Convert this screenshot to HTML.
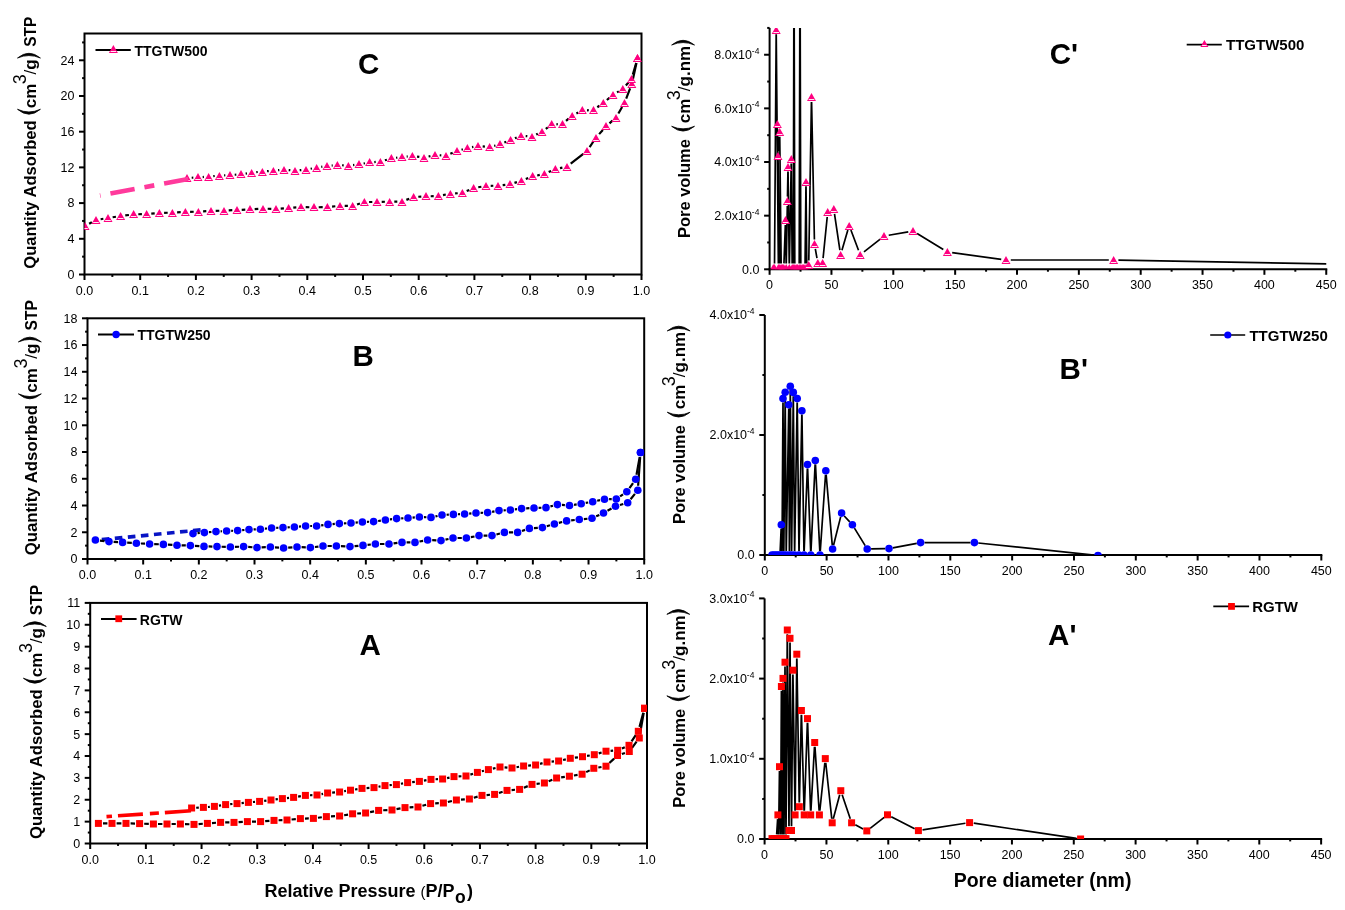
<!DOCTYPE html>
<html><head><meta charset="utf-8"><title>Isotherms and pore size distributions</title>
<style>html,body{margin:0;padding:0;background:#fff;}body{width:1345px;height:910px;overflow:hidden;font-family:"Liberation Sans",sans-serif;}svg{display:block;will-change:transform;}</style>
</head><body>
<svg width="1345" height="910" viewBox="0 0 1345 910" font-family='"Liberation Sans", sans-serif' fill="#000"><defs><clipPath id="cC"><rect x="84.5" y="33.5" width="557" height="241"/></clipPath><clipPath id="cB"><rect x="87.5" y="318.3" width="556.7" height="240.7"/></clipPath><clipPath id="cA"><rect x="90.2" y="602.9" width="556.8" height="240.6"/></clipPath><clipPath id="cCp"><rect x="769.6" y="27.92" width="556.65" height="241.38"/></clipPath><clipPath id="cBp"><rect x="764.8" y="315" width="556.52" height="240"/></clipPath><clipPath id="cAp"><rect x="764.6" y="598.4" width="556.51" height="240.6"/></clipPath></defs><rect x="84.5" y="33.5" width="557" height="241" fill="none" stroke="#000" stroke-width="2"/>
<line x1="79" y1="274.5" x2="84.5" y2="274.5" stroke="#000" stroke-width="2" stroke-linecap="butt"/>
<text x="74.5" y="278.9" font-size="12.5" text-anchor="end" >0</text>
<line x1="82.1" y1="256.65" x2="84.5" y2="256.65" stroke="#000" stroke-width="2" stroke-linecap="butt"/>
<line x1="79" y1="238.8" x2="84.5" y2="238.8" stroke="#000" stroke-width="2" stroke-linecap="butt"/>
<text x="74.5" y="243.2" font-size="12.5" text-anchor="end" >4</text>
<line x1="82.1" y1="220.94" x2="84.5" y2="220.94" stroke="#000" stroke-width="2" stroke-linecap="butt"/>
<line x1="79" y1="203.09" x2="84.5" y2="203.09" stroke="#000" stroke-width="2" stroke-linecap="butt"/>
<text x="74.5" y="207.49" font-size="12.5" text-anchor="end" >8</text>
<line x1="82.1" y1="185.24" x2="84.5" y2="185.24" stroke="#000" stroke-width="2" stroke-linecap="butt"/>
<line x1="79" y1="167.39" x2="84.5" y2="167.39" stroke="#000" stroke-width="2" stroke-linecap="butt"/>
<text x="74.5" y="171.79" font-size="12.5" text-anchor="end" >12</text>
<line x1="82.1" y1="149.54" x2="84.5" y2="149.54" stroke="#000" stroke-width="2" stroke-linecap="butt"/>
<line x1="79" y1="131.69" x2="84.5" y2="131.69" stroke="#000" stroke-width="2" stroke-linecap="butt"/>
<text x="74.5" y="136.09" font-size="12.5" text-anchor="end" >16</text>
<line x1="82.1" y1="113.83" x2="84.5" y2="113.83" stroke="#000" stroke-width="2" stroke-linecap="butt"/>
<line x1="79" y1="95.98" x2="84.5" y2="95.98" stroke="#000" stroke-width="2" stroke-linecap="butt"/>
<text x="74.5" y="100.38" font-size="12.5" text-anchor="end" >20</text>
<line x1="82.1" y1="78.13" x2="84.5" y2="78.13" stroke="#000" stroke-width="2" stroke-linecap="butt"/>
<line x1="79" y1="60.28" x2="84.5" y2="60.28" stroke="#000" stroke-width="2" stroke-linecap="butt"/>
<text x="74.5" y="64.68" font-size="12.5" text-anchor="end" >24</text>
<line x1="82.1" y1="42.43" x2="84.5" y2="42.43" stroke="#000" stroke-width="2" stroke-linecap="butt"/>
<line x1="84.5" y1="274.5" x2="84.5" y2="280" stroke="#000" stroke-width="2" stroke-linecap="butt"/>
<text x="84.5" y="294.6" font-size="12.5" text-anchor="middle" >0.0</text>
<line x1="112.35" y1="274.5" x2="112.35" y2="276.9" stroke="#000" stroke-width="2" stroke-linecap="butt"/>
<line x1="140.2" y1="274.5" x2="140.2" y2="280" stroke="#000" stroke-width="2" stroke-linecap="butt"/>
<text x="140.2" y="294.6" font-size="12.5" text-anchor="middle" >0.1</text>
<line x1="168.05" y1="274.5" x2="168.05" y2="276.9" stroke="#000" stroke-width="2" stroke-linecap="butt"/>
<line x1="195.9" y1="274.5" x2="195.9" y2="280" stroke="#000" stroke-width="2" stroke-linecap="butt"/>
<text x="195.9" y="294.6" font-size="12.5" text-anchor="middle" >0.2</text>
<line x1="223.75" y1="274.5" x2="223.75" y2="276.9" stroke="#000" stroke-width="2" stroke-linecap="butt"/>
<line x1="251.6" y1="274.5" x2="251.6" y2="280" stroke="#000" stroke-width="2" stroke-linecap="butt"/>
<text x="251.6" y="294.6" font-size="12.5" text-anchor="middle" >0.3</text>
<line x1="279.45" y1="274.5" x2="279.45" y2="276.9" stroke="#000" stroke-width="2" stroke-linecap="butt"/>
<line x1="307.3" y1="274.5" x2="307.3" y2="280" stroke="#000" stroke-width="2" stroke-linecap="butt"/>
<text x="307.3" y="294.6" font-size="12.5" text-anchor="middle" >0.4</text>
<line x1="335.15" y1="274.5" x2="335.15" y2="276.9" stroke="#000" stroke-width="2" stroke-linecap="butt"/>
<line x1="363" y1="274.5" x2="363" y2="280" stroke="#000" stroke-width="2" stroke-linecap="butt"/>
<text x="363" y="294.6" font-size="12.5" text-anchor="middle" >0.5</text>
<line x1="390.85" y1="274.5" x2="390.85" y2="276.9" stroke="#000" stroke-width="2" stroke-linecap="butt"/>
<line x1="418.7" y1="274.5" x2="418.7" y2="280" stroke="#000" stroke-width="2" stroke-linecap="butt"/>
<text x="418.7" y="294.6" font-size="12.5" text-anchor="middle" >0.6</text>
<line x1="446.55" y1="274.5" x2="446.55" y2="276.9" stroke="#000" stroke-width="2" stroke-linecap="butt"/>
<line x1="474.4" y1="274.5" x2="474.4" y2="280" stroke="#000" stroke-width="2" stroke-linecap="butt"/>
<text x="474.4" y="294.6" font-size="12.5" text-anchor="middle" >0.7</text>
<line x1="502.25" y1="274.5" x2="502.25" y2="276.9" stroke="#000" stroke-width="2" stroke-linecap="butt"/>
<line x1="530.1" y1="274.5" x2="530.1" y2="280" stroke="#000" stroke-width="2" stroke-linecap="butt"/>
<text x="530.1" y="294.6" font-size="12.5" text-anchor="middle" >0.8</text>
<line x1="557.95" y1="274.5" x2="557.95" y2="276.9" stroke="#000" stroke-width="2" stroke-linecap="butt"/>
<line x1="585.8" y1="274.5" x2="585.8" y2="280" stroke="#000" stroke-width="2" stroke-linecap="butt"/>
<text x="585.8" y="294.6" font-size="12.5" text-anchor="middle" >0.9</text>
<line x1="613.65" y1="274.5" x2="613.65" y2="276.9" stroke="#000" stroke-width="2" stroke-linecap="butt"/>
<line x1="641.5" y1="274.5" x2="641.5" y2="280" stroke="#000" stroke-width="2" stroke-linecap="butt"/>
<text x="641.5" y="294.6" font-size="12.5" text-anchor="middle" >1.0</text>
<g clip-path="url(#cC)">
<path d="M89.13 223.75L91.87 222.25M100.64 219.23L103.36 218.77M112.64 217.26L115.96 216.74M125.26 215.43L128.94 214.97M138.3 214.26L141.9 214.14M151.29 213.63L154.71 213.37M164.1 212.86L167.7 212.74M177.1 212.38L180.7 212.22M190.1 211.86L193.7 211.74M203.09 211.38L206.31 211.22M215.7 210.86L219.3 210.74M228.7 210.38L232.3 210.22M241.7 209.78L245.3 209.62M254.69 209.11L258.31 208.89M267.7 208.74L271.3 208.86M280.69 208.63L283.91 208.37M293.28 207.62L296.32 207.38M305.7 207.14L309.3 207.26M318.7 207.26L322.7 207.14M332.08 206.55L335.32 206.25M344.7 205.87L347.9 205.93M357.05 204.49L359.95 203.51M369.1 202L372.3 202M381.7 201.85L384.9 201.75M394.3 201.6L397.3 201.6M406.37 199.87L409.23 198.73M418.29 196.77L421.31 196.63M430.7 196.25L433.7 196.15M443.01 195.08L445.79 194.52M455.09 193.37L457.71 193.23M466.69 191.08L469.31 189.92M478.24 187.25L481.36 186.75M490.7 185.84L493.3 185.76M502.68 185.13L505.32 184.87M514.46 182.91L516.94 182.09M525.8 178.95L528.2 178.05M537.21 175.46L539.79 174.94M548.68 172.06L551.12 170.94M560 168.05L562.4 167.55M570.71 163.71L583.29 153.89M589.62 147.1L593.38 141.5M599.15 134.11L602.85 129.99M609.49 123.36L612.51 120.64M618.38 113.45L622.12 107.05M626.19 98.61L630.11 88.39M632.83 79.41L636.47 63.09" fill="none" stroke="#000" stroke-width="2.2" stroke-linecap="butt"/>
<path d="M191.69 177.74L193.31 177.66M202.69 177.05L203.91 176.95M213.28 176.17L214.72 176.03M224.09 175.33L225.31 175.27M234.69 174.74L236.31 174.66M245.63 173.61L246.97 173.39M256.28 172.17L257.72 172.03M267.08 171.17L268.72 171.03M278.08 170.16L279.32 170.04M288.68 170.03L290.32 170.17M299.68 170.17L301.32 170.03M310.62 168.73L311.98 168.47M321.25 166.89L322.35 166.71M331.68 165.55L332.72 165.45M342.09 165.26L343.71 165.34M353.07 165.07L354.33 164.93M363.62 163.53L364.98 163.27M374.29 162.05L375.71 161.95M384.91 160.29L386.89 159.71M396.06 157.78L397.34 157.62M406.68 156.55L407.72 156.45M417.06 156.64L419.34 156.96M428.57 156.52L430.43 156.08M439.69 155.26L441.31 155.34M450.34 153.79L452.66 152.81M461.52 149.7L462.88 149.3M472.02 147.13L473.38 146.87M482.68 146.4L484.92 146.6M494.16 145.86L495.44 145.54M504.34 142.6L506.26 141.8M514.93 138.17L516.67 137.43M525.68 136.03L527.32 136.17M536.2 134.5L537.8 133.7M545.79 128.82L547.91 127.28M556.39 124.28L557.81 124.22M566.03 120.9L568.67 118.6M576.41 113.41L578.09 112.59M587 110.29L588.8 110.21M597.32 107.27L599.48 105.73M606.89 99.97L609.41 97.83M617.04 92.41L618.76 91.39M625.88 85.45L628.42 82.55M632.82 74.49L636.18 63.01" fill="none" stroke="#000" stroke-width="2.2" stroke-linecap="butt"/>
<path d="M85 222L89.5 230L80.5 230Z" fill="#FF0080"/>
<line x1="82.19" y1="228.5" x2="87.81" y2="228.5" stroke="#FFE8F4" stroke-width="1"/>
<path d="M96 216L100.5 224L91.5 224Z" fill="#FF0080"/>
<line x1="93.19" y1="222.5" x2="98.81" y2="222.5" stroke="#FFE8F4" stroke-width="1"/>
<path d="M108 214L112.5 222L103.5 222Z" fill="#FF0080"/>
<line x1="105.19" y1="220.5" x2="110.81" y2="220.5" stroke="#FFE8F4" stroke-width="1"/>
<path d="M120.6 212L125.1 220L116.1 220Z" fill="#FF0080"/>
<line x1="117.79" y1="218.5" x2="123.41" y2="218.5" stroke="#FFE8F4" stroke-width="1"/>
<path d="M133.6 210L138.1 218L129.1 218Z" fill="#FF0080"/>
<line x1="130.79" y1="216.5" x2="136.41" y2="216.5" stroke="#FFE8F4" stroke-width="1"/>
<path d="M146.6 210L151.1 218L142.1 218Z" fill="#FF0080"/>
<line x1="143.79" y1="216.5" x2="149.41" y2="216.5" stroke="#FFE8F4" stroke-width="1"/>
<path d="M159.4 209L163.9 217L154.9 217Z" fill="#FF0080"/>
<line x1="156.59" y1="215.5" x2="162.21" y2="215.5" stroke="#FFE8F4" stroke-width="1"/>
<path d="M172.4 209L176.9 217L167.9 217Z" fill="#FF0080"/>
<line x1="169.59" y1="215.5" x2="175.21" y2="215.5" stroke="#FFE8F4" stroke-width="1"/>
<path d="M185.4 208L189.9 216L180.9 216Z" fill="#FF0080"/>
<line x1="182.59" y1="214.5" x2="188.21" y2="214.5" stroke="#FFE8F4" stroke-width="1"/>
<path d="M198.4 208L202.9 216L193.9 216Z" fill="#FF0080"/>
<line x1="195.59" y1="214.5" x2="201.21" y2="214.5" stroke="#FFE8F4" stroke-width="1"/>
<path d="M211 207L215.5 215L206.5 215Z" fill="#FF0080"/>
<line x1="208.19" y1="213.5" x2="213.81" y2="213.5" stroke="#FFE8F4" stroke-width="1"/>
<path d="M224 207L228.5 215L219.5 215Z" fill="#FF0080"/>
<line x1="221.19" y1="213.5" x2="226.81" y2="213.5" stroke="#FFE8F4" stroke-width="1"/>
<path d="M237 206L241.5 214L232.5 214Z" fill="#FF0080"/>
<line x1="234.19" y1="212.5" x2="239.81" y2="212.5" stroke="#FFE8F4" stroke-width="1"/>
<path d="M250 205L254.5 213L245.5 213Z" fill="#FF0080"/>
<line x1="247.19" y1="211.5" x2="252.81" y2="211.5" stroke="#FFE8F4" stroke-width="1"/>
<path d="M263 205L267.5 213L258.5 213Z" fill="#FF0080"/>
<line x1="260.19" y1="211.5" x2="265.81" y2="211.5" stroke="#FFE8F4" stroke-width="1"/>
<path d="M276 205L280.5 213L271.5 213Z" fill="#FF0080"/>
<line x1="273.19" y1="211.5" x2="278.81" y2="211.5" stroke="#FFE8F4" stroke-width="1"/>
<path d="M288.6 204L293.1 212L284.1 212Z" fill="#FF0080"/>
<line x1="285.79" y1="210.5" x2="291.41" y2="210.5" stroke="#FFE8F4" stroke-width="1"/>
<path d="M301 203L305.5 211L296.5 211Z" fill="#FF0080"/>
<line x1="298.19" y1="209.5" x2="303.81" y2="209.5" stroke="#FFE8F4" stroke-width="1"/>
<path d="M314 203L318.5 211L309.5 211Z" fill="#FF0080"/>
<line x1="311.19" y1="209.5" x2="316.81" y2="209.5" stroke="#FFE8F4" stroke-width="1"/>
<path d="M327.4 203L331.9 211L322.9 211Z" fill="#FF0080"/>
<line x1="324.59" y1="209.5" x2="330.21" y2="209.5" stroke="#FFE8F4" stroke-width="1"/>
<path d="M340 202L344.5 210L335.5 210Z" fill="#FF0080"/>
<line x1="337.19" y1="208.5" x2="342.81" y2="208.5" stroke="#FFE8F4" stroke-width="1"/>
<path d="M352.6 202L357.1 210L348.1 210Z" fill="#FF0080"/>
<line x1="349.79" y1="208.5" x2="355.41" y2="208.5" stroke="#FFE8F4" stroke-width="1"/>
<path d="M364.4 198L368.9 206L359.9 206Z" fill="#FF0080"/>
<line x1="361.59" y1="204.5" x2="367.21" y2="204.5" stroke="#FFE8F4" stroke-width="1"/>
<path d="M377 198L381.5 206L372.5 206Z" fill="#FF0080"/>
<line x1="374.19" y1="204.5" x2="379.81" y2="204.5" stroke="#FFE8F4" stroke-width="1"/>
<path d="M389.6 198L394.1 206L385.1 206Z" fill="#FF0080"/>
<line x1="386.79" y1="204.5" x2="392.41" y2="204.5" stroke="#FFE8F4" stroke-width="1"/>
<path d="M402 198L406.5 206L397.5 206Z" fill="#FF0080"/>
<line x1="399.19" y1="204.5" x2="404.81" y2="204.5" stroke="#FFE8F4" stroke-width="1"/>
<path d="M413.6 193L418.1 201L409.1 201Z" fill="#FF0080"/>
<line x1="410.79" y1="199.5" x2="416.41" y2="199.5" stroke="#FFE8F4" stroke-width="1"/>
<path d="M426 192L430.5 200L421.5 200Z" fill="#FF0080"/>
<line x1="423.19" y1="198.5" x2="428.81" y2="198.5" stroke="#FFE8F4" stroke-width="1"/>
<path d="M438.4 192L442.9 200L433.9 200Z" fill="#FF0080"/>
<line x1="435.59" y1="198.5" x2="441.21" y2="198.5" stroke="#FFE8F4" stroke-width="1"/>
<path d="M450.4 190L454.9 198L445.9 198Z" fill="#FF0080"/>
<line x1="447.59" y1="196.5" x2="453.21" y2="196.5" stroke="#FFE8F4" stroke-width="1"/>
<path d="M462.4 189L466.9 197L457.9 197Z" fill="#FF0080"/>
<line x1="459.59" y1="195.5" x2="465.21" y2="195.5" stroke="#FFE8F4" stroke-width="1"/>
<path d="M473.6 184L478.1 192L469.1 192Z" fill="#FF0080"/>
<line x1="470.79" y1="190.5" x2="476.41" y2="190.5" stroke="#FFE8F4" stroke-width="1"/>
<path d="M486 182L490.5 190L481.5 190Z" fill="#FF0080"/>
<line x1="483.19" y1="188.5" x2="488.81" y2="188.5" stroke="#FFE8F4" stroke-width="1"/>
<path d="M498 182L502.5 190L493.5 190Z" fill="#FF0080"/>
<line x1="495.19" y1="188.5" x2="500.81" y2="188.5" stroke="#FFE8F4" stroke-width="1"/>
<path d="M510 180L514.5 188L505.5 188Z" fill="#FF0080"/>
<line x1="507.19" y1="186.5" x2="512.81" y2="186.5" stroke="#FFE8F4" stroke-width="1"/>
<path d="M521.4 177L525.9 185L516.9 185Z" fill="#FF0080"/>
<line x1="518.59" y1="183.5" x2="524.21" y2="183.5" stroke="#FFE8F4" stroke-width="1"/>
<path d="M532.6 172L537.1 180L528.1 180Z" fill="#FF0080"/>
<line x1="529.79" y1="178.5" x2="535.41" y2="178.5" stroke="#FFE8F4" stroke-width="1"/>
<path d="M544.4 170L548.9 178L539.9 178Z" fill="#FF0080"/>
<line x1="541.59" y1="176.5" x2="547.21" y2="176.5" stroke="#FFE8F4" stroke-width="1"/>
<path d="M555.4 165L559.9 173L550.9 173Z" fill="#FF0080"/>
<line x1="552.59" y1="171.5" x2="558.21" y2="171.5" stroke="#FFE8F4" stroke-width="1"/>
<path d="M567 163L571.5 171L562.5 171Z" fill="#FF0080"/>
<line x1="564.19" y1="169.5" x2="569.81" y2="169.5" stroke="#FFE8F4" stroke-width="1"/>
<path d="M587 147L591.5 155L582.5 155Z" fill="#FF0080"/>
<line x1="584.19" y1="153.5" x2="589.81" y2="153.5" stroke="#FFE8F4" stroke-width="1"/>
<path d="M596 134L600.5 142L591.5 142Z" fill="#FF0080"/>
<line x1="593.19" y1="140.5" x2="598.81" y2="140.5" stroke="#FFE8F4" stroke-width="1"/>
<path d="M606 122L610.5 130L601.5 130Z" fill="#FF0080"/>
<line x1="603.19" y1="128.5" x2="608.81" y2="128.5" stroke="#FFE8F4" stroke-width="1"/>
<path d="M616 114L620.5 122L611.5 122Z" fill="#FF0080"/>
<line x1="613.19" y1="120.5" x2="618.81" y2="120.5" stroke="#FFE8F4" stroke-width="1"/>
<path d="M624.5 99L629 107L620 107Z" fill="#FF0080"/>
<line x1="621.69" y1="105.5" x2="627.31" y2="105.5" stroke="#FFE8F4" stroke-width="1"/>
<path d="M631.8 80L636.3 88L627.3 88Z" fill="#FF0080"/>
<line x1="628.99" y1="86.5" x2="634.61" y2="86.5" stroke="#FFE8F4" stroke-width="1"/>
<path d="M637.5 54L642 62L633 62Z" fill="#FF0080"/>
<line x1="634.69" y1="60.5" x2="640.31" y2="60.5" stroke="#FFE8F4" stroke-width="1"/>
<path d="M187 174L191.5 182L182.5 182Z" fill="#FF0080"/>
<line x1="184.19" y1="180.5" x2="189.81" y2="180.5" stroke="#FFE8F4" stroke-width="1"/>
<path d="M198 173L202.5 181L193.5 181Z" fill="#FF0080"/>
<line x1="195.19" y1="179.5" x2="200.81" y2="179.5" stroke="#FFE8F4" stroke-width="1"/>
<path d="M208.6 173L213.1 181L204.1 181Z" fill="#FF0080"/>
<line x1="205.79" y1="179.5" x2="211.41" y2="179.5" stroke="#FFE8F4" stroke-width="1"/>
<path d="M219.4 172L223.9 180L214.9 180Z" fill="#FF0080"/>
<line x1="216.59" y1="178.5" x2="222.21" y2="178.5" stroke="#FFE8F4" stroke-width="1"/>
<path d="M230 171L234.5 179L225.5 179Z" fill="#FF0080"/>
<line x1="227.19" y1="177.5" x2="232.81" y2="177.5" stroke="#FFE8F4" stroke-width="1"/>
<path d="M241 170L245.5 178L236.5 178Z" fill="#FF0080"/>
<line x1="238.19" y1="176.5" x2="243.81" y2="176.5" stroke="#FFE8F4" stroke-width="1"/>
<path d="M251.6 169L256.1 177L247.1 177Z" fill="#FF0080"/>
<line x1="248.79" y1="175.5" x2="254.41" y2="175.5" stroke="#FFE8F4" stroke-width="1"/>
<path d="M262.4 168L266.9 176L257.9 176Z" fill="#FF0080"/>
<line x1="259.59" y1="174.5" x2="265.21" y2="174.5" stroke="#FFE8F4" stroke-width="1"/>
<path d="M273.4 167L277.9 175L268.9 175Z" fill="#FF0080"/>
<line x1="270.59" y1="173.5" x2="276.21" y2="173.5" stroke="#FFE8F4" stroke-width="1"/>
<path d="M284 166L288.5 174L279.5 174Z" fill="#FF0080"/>
<line x1="281.19" y1="172.5" x2="286.81" y2="172.5" stroke="#FFE8F4" stroke-width="1"/>
<path d="M295 167L299.5 175L290.5 175Z" fill="#FF0080"/>
<line x1="292.19" y1="173.5" x2="297.81" y2="173.5" stroke="#FFE8F4" stroke-width="1"/>
<path d="M306 166L310.5 174L301.5 174Z" fill="#FF0080"/>
<line x1="303.19" y1="172.5" x2="308.81" y2="172.5" stroke="#FFE8F4" stroke-width="1"/>
<path d="M316.6 164L321.1 172L312.1 172Z" fill="#FF0080"/>
<line x1="313.79" y1="170.5" x2="319.41" y2="170.5" stroke="#FFE8F4" stroke-width="1"/>
<path d="M327 162L331.5 170L322.5 170Z" fill="#FF0080"/>
<line x1="324.19" y1="168.5" x2="329.81" y2="168.5" stroke="#FFE8F4" stroke-width="1"/>
<path d="M337.4 161L341.9 169L332.9 169Z" fill="#FF0080"/>
<line x1="334.59" y1="167.5" x2="340.21" y2="167.5" stroke="#FFE8F4" stroke-width="1"/>
<path d="M348.4 162L352.9 170L343.9 170Z" fill="#FF0080"/>
<line x1="345.59" y1="168.5" x2="351.21" y2="168.5" stroke="#FFE8F4" stroke-width="1"/>
<path d="M359 160L363.5 168L354.5 168Z" fill="#FF0080"/>
<line x1="356.19" y1="166.5" x2="361.81" y2="166.5" stroke="#FFE8F4" stroke-width="1"/>
<path d="M369.6 158L374.1 166L365.1 166Z" fill="#FF0080"/>
<line x1="366.79" y1="164.5" x2="372.41" y2="164.5" stroke="#FFE8F4" stroke-width="1"/>
<path d="M380.4 158L384.9 166L375.9 166Z" fill="#FF0080"/>
<line x1="377.59" y1="164.5" x2="383.21" y2="164.5" stroke="#FFE8F4" stroke-width="1"/>
<path d="M391.4 154L395.9 162L386.9 162Z" fill="#FF0080"/>
<line x1="388.59" y1="160.5" x2="394.21" y2="160.5" stroke="#FFE8F4" stroke-width="1"/>
<path d="M402 153L406.5 161L397.5 161Z" fill="#FF0080"/>
<line x1="399.19" y1="159.5" x2="404.81" y2="159.5" stroke="#FFE8F4" stroke-width="1"/>
<path d="M412.4 152L416.9 160L407.9 160Z" fill="#FF0080"/>
<line x1="409.59" y1="158.5" x2="415.21" y2="158.5" stroke="#FFE8F4" stroke-width="1"/>
<path d="M424 154L428.5 162L419.5 162Z" fill="#FF0080"/>
<line x1="421.19" y1="160.5" x2="426.81" y2="160.5" stroke="#FFE8F4" stroke-width="1"/>
<path d="M435 151L439.5 159L430.5 159Z" fill="#FF0080"/>
<line x1="432.19" y1="157.5" x2="437.81" y2="157.5" stroke="#FFE8F4" stroke-width="1"/>
<path d="M446 152L450.5 160L441.5 160Z" fill="#FF0080"/>
<line x1="443.19" y1="158.5" x2="448.81" y2="158.5" stroke="#FFE8F4" stroke-width="1"/>
<path d="M457 147L461.5 155L452.5 155Z" fill="#FF0080"/>
<line x1="454.19" y1="153.5" x2="459.81" y2="153.5" stroke="#FFE8F4" stroke-width="1"/>
<path d="M467.4 144L471.9 152L462.9 152Z" fill="#FF0080"/>
<line x1="464.59" y1="150.5" x2="470.21" y2="150.5" stroke="#FFE8F4" stroke-width="1"/>
<path d="M478 142L482.5 150L473.5 150Z" fill="#FF0080"/>
<line x1="475.19" y1="148.5" x2="480.81" y2="148.5" stroke="#FFE8F4" stroke-width="1"/>
<path d="M489.6 143L494.1 151L485.1 151Z" fill="#FF0080"/>
<line x1="486.79" y1="149.5" x2="492.41" y2="149.5" stroke="#FFE8F4" stroke-width="1"/>
<path d="M500 140L504.5 148L495.5 148Z" fill="#FF0080"/>
<line x1="497.19" y1="146.5" x2="502.81" y2="146.5" stroke="#FFE8F4" stroke-width="1"/>
<path d="M510.6 136L515.1 144L506.1 144Z" fill="#FF0080"/>
<line x1="507.79" y1="142.5" x2="513.41" y2="142.5" stroke="#FFE8F4" stroke-width="1"/>
<path d="M521 132L525.5 140L516.5 140Z" fill="#FF0080"/>
<line x1="518.19" y1="138.5" x2="523.81" y2="138.5" stroke="#FFE8F4" stroke-width="1"/>
<path d="M532 133L536.5 141L527.5 141Z" fill="#FF0080"/>
<line x1="529.19" y1="139.5" x2="534.81" y2="139.5" stroke="#FFE8F4" stroke-width="1"/>
<path d="M542 128L546.5 136L537.5 136Z" fill="#FF0080"/>
<line x1="539.19" y1="134.5" x2="544.81" y2="134.5" stroke="#FFE8F4" stroke-width="1"/>
<path d="M551.7 120L556.2 128L547.2 128Z" fill="#FF0080"/>
<line x1="548.89" y1="126.5" x2="554.51" y2="126.5" stroke="#FFE8F4" stroke-width="1"/>
<path d="M562.5 120L567 128L558 128Z" fill="#FF0080"/>
<line x1="559.69" y1="126.5" x2="565.31" y2="126.5" stroke="#FFE8F4" stroke-width="1"/>
<path d="M572.2 112L576.7 120L567.7 120Z" fill="#FF0080"/>
<line x1="569.39" y1="118.5" x2="575.01" y2="118.5" stroke="#FFE8F4" stroke-width="1"/>
<path d="M582.3 106L586.8 114L577.8 114Z" fill="#FF0080"/>
<line x1="579.49" y1="112.5" x2="585.11" y2="112.5" stroke="#FFE8F4" stroke-width="1"/>
<path d="M593.5 106L598 114L589 114Z" fill="#FF0080"/>
<line x1="590.69" y1="112.5" x2="596.31" y2="112.5" stroke="#FFE8F4" stroke-width="1"/>
<path d="M603.3 99L607.8 107L598.8 107Z" fill="#FF0080"/>
<line x1="600.49" y1="105.5" x2="606.11" y2="105.5" stroke="#FFE8F4" stroke-width="1"/>
<path d="M613 91L617.5 99L608.5 99Z" fill="#FF0080"/>
<line x1="610.19" y1="97.5" x2="615.81" y2="97.5" stroke="#FFE8F4" stroke-width="1"/>
<path d="M622.8 85L627.3 93L618.3 93Z" fill="#FF0080"/>
<line x1="619.99" y1="91.5" x2="625.61" y2="91.5" stroke="#FFE8F4" stroke-width="1"/>
<path d="M631.5 75L636 83L627 83Z" fill="#FF0080"/>
<line x1="628.69" y1="81.5" x2="634.31" y2="81.5" stroke="#FFE8F4" stroke-width="1"/>
<path d="M637.5 54L642 62L633 62Z" fill="#FF0080"/>
<line x1="634.69" y1="60.5" x2="640.31" y2="60.5" stroke="#FFE8F4" stroke-width="1"/>
<path d="M100 195.5L190.6 178.6" fill="none" stroke="#FF3A9C" stroke-width="4.6" stroke-dasharray="24.6 10 10 10" stroke-dashoffset="44"/>
</g>
<line x1="95.5" y1="50" x2="130.8" y2="50" stroke="#000" stroke-width="2" stroke-linecap="butt"/>
<path d="M113.4 45L117.9 53L108.9 53Z" fill="#FF0080"/>
<line x1="110.59" y1="51.5" x2="116.21" y2="51.5" stroke="#FFE8F4" stroke-width="1"/>
<text x="134.5" y="55.8" font-size="14" text-anchor="start" font-weight="bold" >TTGTW500</text>
<text x="358" y="74.3" font-size="29.5" text-anchor="start" font-weight="bold" >C</text>
<rect x="87.5" y="318.3" width="556.7" height="240.7" fill="none" stroke="#000" stroke-width="2"/>
<line x1="82" y1="559" x2="87.5" y2="559" stroke="#000" stroke-width="2" stroke-linecap="butt"/>
<text x="77.5" y="563.4" font-size="12.5" text-anchor="end" >0</text>
<line x1="85.1" y1="545.63" x2="87.5" y2="545.63" stroke="#000" stroke-width="2" stroke-linecap="butt"/>
<line x1="82" y1="532.26" x2="87.5" y2="532.26" stroke="#000" stroke-width="2" stroke-linecap="butt"/>
<text x="77.5" y="536.66" font-size="12.5" text-anchor="end" >2</text>
<line x1="85.1" y1="518.88" x2="87.5" y2="518.88" stroke="#000" stroke-width="2" stroke-linecap="butt"/>
<line x1="82" y1="505.51" x2="87.5" y2="505.51" stroke="#000" stroke-width="2" stroke-linecap="butt"/>
<text x="77.5" y="509.91" font-size="12.5" text-anchor="end" >4</text>
<line x1="85.1" y1="492.14" x2="87.5" y2="492.14" stroke="#000" stroke-width="2" stroke-linecap="butt"/>
<line x1="82" y1="478.77" x2="87.5" y2="478.77" stroke="#000" stroke-width="2" stroke-linecap="butt"/>
<text x="77.5" y="483.17" font-size="12.5" text-anchor="end" >6</text>
<line x1="85.1" y1="465.39" x2="87.5" y2="465.39" stroke="#000" stroke-width="2" stroke-linecap="butt"/>
<line x1="82" y1="452.02" x2="87.5" y2="452.02" stroke="#000" stroke-width="2" stroke-linecap="butt"/>
<text x="77.5" y="456.42" font-size="12.5" text-anchor="end" >8</text>
<line x1="85.1" y1="438.65" x2="87.5" y2="438.65" stroke="#000" stroke-width="2" stroke-linecap="butt"/>
<line x1="82" y1="425.28" x2="87.5" y2="425.28" stroke="#000" stroke-width="2" stroke-linecap="butt"/>
<text x="77.5" y="429.68" font-size="12.5" text-anchor="end" >10</text>
<line x1="85.1" y1="411.91" x2="87.5" y2="411.91" stroke="#000" stroke-width="2" stroke-linecap="butt"/>
<line x1="82" y1="398.53" x2="87.5" y2="398.53" stroke="#000" stroke-width="2" stroke-linecap="butt"/>
<text x="77.5" y="402.93" font-size="12.5" text-anchor="end" >12</text>
<line x1="85.1" y1="385.16" x2="87.5" y2="385.16" stroke="#000" stroke-width="2" stroke-linecap="butt"/>
<line x1="82" y1="371.79" x2="87.5" y2="371.79" stroke="#000" stroke-width="2" stroke-linecap="butt"/>
<text x="77.5" y="376.19" font-size="12.5" text-anchor="end" >14</text>
<line x1="85.1" y1="358.42" x2="87.5" y2="358.42" stroke="#000" stroke-width="2" stroke-linecap="butt"/>
<line x1="82" y1="345.04" x2="87.5" y2="345.04" stroke="#000" stroke-width="2" stroke-linecap="butt"/>
<text x="77.5" y="349.44" font-size="12.5" text-anchor="end" >16</text>
<line x1="85.1" y1="331.67" x2="87.5" y2="331.67" stroke="#000" stroke-width="2" stroke-linecap="butt"/>
<line x1="82" y1="318.3" x2="87.5" y2="318.3" stroke="#000" stroke-width="2" stroke-linecap="butt"/>
<text x="77.5" y="322.7" font-size="12.5" text-anchor="end" >18</text>
<line x1="87.5" y1="559" x2="87.5" y2="564.5" stroke="#000" stroke-width="2" stroke-linecap="butt"/>
<text x="87.5" y="579.1" font-size="12.5" text-anchor="middle" >0.0</text>
<line x1="115.34" y1="559" x2="115.34" y2="561.4" stroke="#000" stroke-width="2" stroke-linecap="butt"/>
<line x1="143.17" y1="559" x2="143.17" y2="564.5" stroke="#000" stroke-width="2" stroke-linecap="butt"/>
<text x="143.17" y="579.1" font-size="12.5" text-anchor="middle" >0.1</text>
<line x1="171" y1="559" x2="171" y2="561.4" stroke="#000" stroke-width="2" stroke-linecap="butt"/>
<line x1="198.84" y1="559" x2="198.84" y2="564.5" stroke="#000" stroke-width="2" stroke-linecap="butt"/>
<text x="198.84" y="579.1" font-size="12.5" text-anchor="middle" >0.2</text>
<line x1="226.68" y1="559" x2="226.68" y2="561.4" stroke="#000" stroke-width="2" stroke-linecap="butt"/>
<line x1="254.51" y1="559" x2="254.51" y2="564.5" stroke="#000" stroke-width="2" stroke-linecap="butt"/>
<text x="254.51" y="579.1" font-size="12.5" text-anchor="middle" >0.3</text>
<line x1="282.35" y1="559" x2="282.35" y2="561.4" stroke="#000" stroke-width="2" stroke-linecap="butt"/>
<line x1="310.18" y1="559" x2="310.18" y2="564.5" stroke="#000" stroke-width="2" stroke-linecap="butt"/>
<text x="310.18" y="579.1" font-size="12.5" text-anchor="middle" >0.4</text>
<line x1="338.01" y1="559" x2="338.01" y2="561.4" stroke="#000" stroke-width="2" stroke-linecap="butt"/>
<line x1="365.85" y1="559" x2="365.85" y2="564.5" stroke="#000" stroke-width="2" stroke-linecap="butt"/>
<text x="365.85" y="579.1" font-size="12.5" text-anchor="middle" >0.5</text>
<line x1="393.69" y1="559" x2="393.69" y2="561.4" stroke="#000" stroke-width="2" stroke-linecap="butt"/>
<line x1="421.52" y1="559" x2="421.52" y2="564.5" stroke="#000" stroke-width="2" stroke-linecap="butt"/>
<text x="421.52" y="579.1" font-size="12.5" text-anchor="middle" >0.6</text>
<line x1="449.36" y1="559" x2="449.36" y2="561.4" stroke="#000" stroke-width="2" stroke-linecap="butt"/>
<line x1="477.19" y1="559" x2="477.19" y2="564.5" stroke="#000" stroke-width="2" stroke-linecap="butt"/>
<text x="477.19" y="579.1" font-size="12.5" text-anchor="middle" >0.7</text>
<line x1="505.02" y1="559" x2="505.02" y2="561.4" stroke="#000" stroke-width="2" stroke-linecap="butt"/>
<line x1="532.86" y1="559" x2="532.86" y2="564.5" stroke="#000" stroke-width="2" stroke-linecap="butt"/>
<text x="532.86" y="579.1" font-size="12.5" text-anchor="middle" >0.8</text>
<line x1="560.7" y1="559" x2="560.7" y2="561.4" stroke="#000" stroke-width="2" stroke-linecap="butt"/>
<line x1="588.53" y1="559" x2="588.53" y2="564.5" stroke="#000" stroke-width="2" stroke-linecap="butt"/>
<text x="588.53" y="579.1" font-size="12.5" text-anchor="middle" >0.9</text>
<line x1="616.37" y1="559" x2="616.37" y2="561.4" stroke="#000" stroke-width="2" stroke-linecap="butt"/>
<line x1="644.2" y1="559" x2="644.2" y2="564.5" stroke="#000" stroke-width="2" stroke-linecap="butt"/>
<text x="644.2" y="579.1" font-size="12.5" text-anchor="middle" >1.0</text>
<g clip-path="url(#cB)">
<path d="M97 540.1L201 529.9" fill="none" stroke="#0814C4" stroke-width="3.7" stroke-dasharray="7.6 5.5" stroke-dashoffset="8.3"/>
<path d="M99.97 540.54L104.43 541.06M113.59 541.87L118.01 542.13M127.19 542.67L131.81 542.93M140.99 543.48L145.01 543.72M154.2 544.13L158.8 544.27M167.99 544.67L172.41 544.93M181.6 545.34L185.8 545.46M194.99 545.87L199.41 546.13M208.6 546.47L212.4 546.53M221.6 546.74L225.8 546.86M235 546.86L239 546.74M248.19 546.94L252.41 547.26M261.6 547.39L265.8 547.21M274.99 547.35L279.01 547.65M288.19 547.66L292.41 547.34M301.6 547.21L305.8 547.39M314.96 547.02L318.44 546.58M327.6 546L331.8 546M341 546.2L345.4 546.4M354.58 546.18L358.42 545.82M367.57 544.88L370.83 544.52M380 544L384.4 544M393.57 543.44L397.43 542.96M406.6 542.4L410.4 542.4M419.52 541.54L423.08 540.86M432.2 540.21L436.4 540.39M445.5 539.63L448.5 538.97M457.6 538L461.8 538M470.92 537.14L474.48 536.46M483.6 535.6L487.4 535.6M496.45 534.45L499.95 533.55M509 532.4L513 532.4M521.96 530.92L525.04 529.88M533.99 528.12L537.81 527.88M546.81 526.28L549.99 525.32M558.86 522.87L562.14 522.03M571.17 520.4L574.73 520M583.88 519.07L587.42 518.73M596.18 516.37L599.32 514.93M607.5 510.73L611.5 508.47M619.93 504.97L623.27 504.03M630.59 499.22L634.91 493.88M638.13 485.71L640.17 457.09" fill="none" stroke="#000" stroke-width="2.2" stroke-linecap="butt"/>
<path d="M197.58 533.2L199.82 533M208.98 532.2L211.42 532M220.59 531.34L222.01 531.26M231.2 530.83L233 530.77M242.18 530.2L244.42 530M253.6 529.44L255.8 529.36M264.97 528.71L267.03 528.49M276.2 527.84L278.4 527.76M287.59 527.36L289.81 527.24M298.98 526.59L301.02 526.41M310.2 526L312 526M321.16 525.36L323.44 525.04M332.59 524.08L334.81 523.92M343.99 523.36L346.41 523.24M355.58 522.6L357.82 522.4M367 521.84L369 521.76M378.16 520.98L380.84 520.62M389.96 519.43L392.04 519.17M401.19 518.36L403.41 518.24M412.58 517.6L414.82 517.4M424 517.16L426.4 517.24M435.49 516.42L437.51 515.98M446.59 514.76L448.81 514.64M458 514.24L460 514.16M469.18 513.6L471.42 513.4M480.6 512.84L483 512.76M492.13 511.81L494.47 511.39M503.59 510.36L505.81 510.24M514.96 509.43L517.04 509.17M526.19 508.38L529.41 508.22M538.6 507.85L541.4 507.75M550.45 506.43L552.95 505.77M561.99 504.94L564.91 505.16M574.05 504.8L576.65 504.4M585.73 502.91L588.17 502.49M597.2 500.75L600 500.15M609.1 499.12L611.7 499.08M620.09 496.4L623.01 494.4M629.47 488.05L633.03 483.05M636.51 474.77L639.69 457.03" fill="none" stroke="#000" stroke-width="2.2" stroke-linecap="butt"/>
<circle cx="95.4" cy="540" r="3.8" fill="#0000FF"/>
<circle cx="109" cy="541.6" r="3.8" fill="#0000FF"/>
<circle cx="122.6" cy="542.4" r="3.8" fill="#0000FF"/>
<circle cx="136.4" cy="543.2" r="3.8" fill="#0000FF"/>
<circle cx="149.6" cy="544" r="3.8" fill="#0000FF"/>
<circle cx="163.4" cy="544.4" r="3.8" fill="#0000FF"/>
<circle cx="177" cy="545.2" r="3.8" fill="#0000FF"/>
<circle cx="190.4" cy="545.6" r="3.8" fill="#0000FF"/>
<circle cx="204" cy="546.4" r="3.8" fill="#0000FF"/>
<circle cx="217" cy="546.6" r="3.8" fill="#0000FF"/>
<circle cx="230.4" cy="547" r="3.8" fill="#0000FF"/>
<circle cx="243.6" cy="546.6" r="3.8" fill="#0000FF"/>
<circle cx="257" cy="547.6" r="3.8" fill="#0000FF"/>
<circle cx="270.4" cy="547" r="3.8" fill="#0000FF"/>
<circle cx="283.6" cy="548" r="3.8" fill="#0000FF"/>
<circle cx="297" cy="547" r="3.8" fill="#0000FF"/>
<circle cx="310.4" cy="547.6" r="3.8" fill="#0000FF"/>
<circle cx="323" cy="546" r="3.8" fill="#0000FF"/>
<circle cx="336.4" cy="546" r="3.8" fill="#0000FF"/>
<circle cx="350" cy="546.6" r="3.8" fill="#0000FF"/>
<circle cx="363" cy="545.4" r="3.8" fill="#0000FF"/>
<circle cx="375.4" cy="544" r="3.8" fill="#0000FF"/>
<circle cx="389" cy="544" r="3.8" fill="#0000FF"/>
<circle cx="402" cy="542.4" r="3.8" fill="#0000FF"/>
<circle cx="415" cy="542.4" r="3.8" fill="#0000FF"/>
<circle cx="427.6" cy="540" r="3.8" fill="#0000FF"/>
<circle cx="441" cy="540.6" r="3.8" fill="#0000FF"/>
<circle cx="453" cy="538" r="3.8" fill="#0000FF"/>
<circle cx="466.4" cy="538" r="3.8" fill="#0000FF"/>
<circle cx="479" cy="535.6" r="3.8" fill="#0000FF"/>
<circle cx="492" cy="535.6" r="3.8" fill="#0000FF"/>
<circle cx="504.4" cy="532.4" r="3.8" fill="#0000FF"/>
<circle cx="517.6" cy="532.4" r="3.8" fill="#0000FF"/>
<circle cx="529.4" cy="528.4" r="3.8" fill="#0000FF"/>
<circle cx="542.4" cy="527.6" r="3.8" fill="#0000FF"/>
<circle cx="554.4" cy="524" r="3.8" fill="#0000FF"/>
<circle cx="566.6" cy="520.9" r="3.8" fill="#0000FF"/>
<circle cx="579.3" cy="519.5" r="3.8" fill="#0000FF"/>
<circle cx="592" cy="518.3" r="3.8" fill="#0000FF"/>
<circle cx="603.5" cy="513" r="3.8" fill="#0000FF"/>
<circle cx="615.5" cy="506.2" r="3.8" fill="#0000FF"/>
<circle cx="627.7" cy="502.8" r="3.8" fill="#0000FF"/>
<circle cx="637.8" cy="490.3" r="3.8" fill="#0000FF"/>
<circle cx="640.5" cy="452.5" r="3.8" fill="#0000FF"/>
<circle cx="193" cy="533.6" r="3.8" fill="#0000FF"/>
<circle cx="204.4" cy="532.6" r="3.8" fill="#0000FF"/>
<circle cx="216" cy="531.6" r="3.8" fill="#0000FF"/>
<circle cx="226.6" cy="531" r="3.8" fill="#0000FF"/>
<circle cx="237.6" cy="530.6" r="3.8" fill="#0000FF"/>
<circle cx="249" cy="529.6" r="3.8" fill="#0000FF"/>
<circle cx="260.4" cy="529.2" r="3.8" fill="#0000FF"/>
<circle cx="271.6" cy="528" r="3.8" fill="#0000FF"/>
<circle cx="283" cy="527.6" r="3.8" fill="#0000FF"/>
<circle cx="294.4" cy="527" r="3.8" fill="#0000FF"/>
<circle cx="305.6" cy="526" r="3.8" fill="#0000FF"/>
<circle cx="316.6" cy="526" r="3.8" fill="#0000FF"/>
<circle cx="328" cy="524.4" r="3.8" fill="#0000FF"/>
<circle cx="339.4" cy="523.6" r="3.8" fill="#0000FF"/>
<circle cx="351" cy="523" r="3.8" fill="#0000FF"/>
<circle cx="362.4" cy="522" r="3.8" fill="#0000FF"/>
<circle cx="373.6" cy="521.6" r="3.8" fill="#0000FF"/>
<circle cx="385.4" cy="520" r="3.8" fill="#0000FF"/>
<circle cx="396.6" cy="518.6" r="3.8" fill="#0000FF"/>
<circle cx="408" cy="518" r="3.8" fill="#0000FF"/>
<circle cx="419.4" cy="517" r="3.8" fill="#0000FF"/>
<circle cx="431" cy="517.4" r="3.8" fill="#0000FF"/>
<circle cx="442" cy="515" r="3.8" fill="#0000FF"/>
<circle cx="453.4" cy="514.4" r="3.8" fill="#0000FF"/>
<circle cx="464.6" cy="514" r="3.8" fill="#0000FF"/>
<circle cx="476" cy="513" r="3.8" fill="#0000FF"/>
<circle cx="487.6" cy="512.6" r="3.8" fill="#0000FF"/>
<circle cx="499" cy="510.6" r="3.8" fill="#0000FF"/>
<circle cx="510.4" cy="510" r="3.8" fill="#0000FF"/>
<circle cx="521.6" cy="508.6" r="3.8" fill="#0000FF"/>
<circle cx="534" cy="508" r="3.8" fill="#0000FF"/>
<circle cx="546" cy="507.6" r="3.8" fill="#0000FF"/>
<circle cx="557.4" cy="504.6" r="3.8" fill="#0000FF"/>
<circle cx="569.5" cy="505.5" r="3.8" fill="#0000FF"/>
<circle cx="581.2" cy="503.7" r="3.8" fill="#0000FF"/>
<circle cx="592.7" cy="501.7" r="3.8" fill="#0000FF"/>
<circle cx="604.5" cy="499.2" r="3.8" fill="#0000FF"/>
<circle cx="616.3" cy="499" r="3.8" fill="#0000FF"/>
<circle cx="626.8" cy="491.8" r="3.8" fill="#0000FF"/>
<circle cx="635.7" cy="479.3" r="3.8" fill="#0000FF"/>
<circle cx="640.5" cy="452.5" r="3.8" fill="#0000FF"/>
</g>
<line x1="98" y1="334.6" x2="134" y2="334.6" stroke="#000" stroke-width="2" stroke-linecap="butt"/>
<circle cx="116.1" cy="334.5" r="3.7" fill="#0000FF"/>
<text x="137.5" y="339.7" font-size="14" text-anchor="start" font-weight="bold" >TTGTW250</text>
<text x="352.4" y="365.5" font-size="29.5" text-anchor="start" font-weight="bold" >B</text>
<rect x="90.2" y="602.9" width="556.8" height="240.6" fill="none" stroke="#000" stroke-width="2"/>
<line x1="84.7" y1="843.5" x2="90.2" y2="843.5" stroke="#000" stroke-width="2" stroke-linecap="butt"/>
<text x="80.2" y="847.9" font-size="12.5" text-anchor="end" >0</text>
<line x1="87.8" y1="832.56" x2="90.2" y2="832.56" stroke="#000" stroke-width="2" stroke-linecap="butt"/>
<line x1="84.7" y1="821.63" x2="90.2" y2="821.63" stroke="#000" stroke-width="2" stroke-linecap="butt"/>
<text x="80.2" y="826.03" font-size="12.5" text-anchor="end" >1</text>
<line x1="87.8" y1="810.69" x2="90.2" y2="810.69" stroke="#000" stroke-width="2" stroke-linecap="butt"/>
<line x1="84.7" y1="799.75" x2="90.2" y2="799.75" stroke="#000" stroke-width="2" stroke-linecap="butt"/>
<text x="80.2" y="804.15" font-size="12.5" text-anchor="end" >2</text>
<line x1="87.8" y1="788.82" x2="90.2" y2="788.82" stroke="#000" stroke-width="2" stroke-linecap="butt"/>
<line x1="84.7" y1="777.88" x2="90.2" y2="777.88" stroke="#000" stroke-width="2" stroke-linecap="butt"/>
<text x="80.2" y="782.28" font-size="12.5" text-anchor="end" >3</text>
<line x1="87.8" y1="766.95" x2="90.2" y2="766.95" stroke="#000" stroke-width="2" stroke-linecap="butt"/>
<line x1="84.7" y1="756.01" x2="90.2" y2="756.01" stroke="#000" stroke-width="2" stroke-linecap="butt"/>
<text x="80.2" y="760.41" font-size="12.5" text-anchor="end" >4</text>
<line x1="87.8" y1="745.07" x2="90.2" y2="745.07" stroke="#000" stroke-width="2" stroke-linecap="butt"/>
<line x1="84.7" y1="734.14" x2="90.2" y2="734.14" stroke="#000" stroke-width="2" stroke-linecap="butt"/>
<text x="80.2" y="738.54" font-size="12.5" text-anchor="end" >5</text>
<line x1="87.8" y1="723.2" x2="90.2" y2="723.2" stroke="#000" stroke-width="2" stroke-linecap="butt"/>
<line x1="84.7" y1="712.26" x2="90.2" y2="712.26" stroke="#000" stroke-width="2" stroke-linecap="butt"/>
<text x="80.2" y="716.66" font-size="12.5" text-anchor="end" >6</text>
<line x1="87.8" y1="701.33" x2="90.2" y2="701.33" stroke="#000" stroke-width="2" stroke-linecap="butt"/>
<line x1="84.7" y1="690.39" x2="90.2" y2="690.39" stroke="#000" stroke-width="2" stroke-linecap="butt"/>
<text x="80.2" y="694.79" font-size="12.5" text-anchor="end" >7</text>
<line x1="87.8" y1="679.45" x2="90.2" y2="679.45" stroke="#000" stroke-width="2" stroke-linecap="butt"/>
<line x1="84.7" y1="668.52" x2="90.2" y2="668.52" stroke="#000" stroke-width="2" stroke-linecap="butt"/>
<text x="80.2" y="672.92" font-size="12.5" text-anchor="end" >8</text>
<line x1="87.8" y1="657.58" x2="90.2" y2="657.58" stroke="#000" stroke-width="2" stroke-linecap="butt"/>
<line x1="84.7" y1="646.65" x2="90.2" y2="646.65" stroke="#000" stroke-width="2" stroke-linecap="butt"/>
<text x="80.2" y="651.05" font-size="12.5" text-anchor="end" >9</text>
<line x1="87.8" y1="635.71" x2="90.2" y2="635.71" stroke="#000" stroke-width="2" stroke-linecap="butt"/>
<line x1="84.7" y1="624.77" x2="90.2" y2="624.77" stroke="#000" stroke-width="2" stroke-linecap="butt"/>
<text x="80.2" y="629.17" font-size="12.5" text-anchor="end" >10</text>
<line x1="87.8" y1="613.84" x2="90.2" y2="613.84" stroke="#000" stroke-width="2" stroke-linecap="butt"/>
<line x1="84.7" y1="602.9" x2="90.2" y2="602.9" stroke="#000" stroke-width="2" stroke-linecap="butt"/>
<text x="80.2" y="607.3" font-size="12.5" text-anchor="end" >11</text>
<line x1="90.2" y1="843.5" x2="90.2" y2="849" stroke="#000" stroke-width="2" stroke-linecap="butt"/>
<text x="90.2" y="863.6" font-size="12.5" text-anchor="middle" >0.0</text>
<line x1="118.04" y1="843.5" x2="118.04" y2="845.9" stroke="#000" stroke-width="2" stroke-linecap="butt"/>
<line x1="145.88" y1="843.5" x2="145.88" y2="849" stroke="#000" stroke-width="2" stroke-linecap="butt"/>
<text x="145.88" y="863.6" font-size="12.5" text-anchor="middle" >0.1</text>
<line x1="173.72" y1="843.5" x2="173.72" y2="845.9" stroke="#000" stroke-width="2" stroke-linecap="butt"/>
<line x1="201.56" y1="843.5" x2="201.56" y2="849" stroke="#000" stroke-width="2" stroke-linecap="butt"/>
<text x="201.56" y="863.6" font-size="12.5" text-anchor="middle" >0.2</text>
<line x1="229.4" y1="843.5" x2="229.4" y2="845.9" stroke="#000" stroke-width="2" stroke-linecap="butt"/>
<line x1="257.24" y1="843.5" x2="257.24" y2="849" stroke="#000" stroke-width="2" stroke-linecap="butt"/>
<text x="257.24" y="863.6" font-size="12.5" text-anchor="middle" >0.3</text>
<line x1="285.08" y1="843.5" x2="285.08" y2="845.9" stroke="#000" stroke-width="2" stroke-linecap="butt"/>
<line x1="312.92" y1="843.5" x2="312.92" y2="849" stroke="#000" stroke-width="2" stroke-linecap="butt"/>
<text x="312.92" y="863.6" font-size="12.5" text-anchor="middle" >0.4</text>
<line x1="340.76" y1="843.5" x2="340.76" y2="845.9" stroke="#000" stroke-width="2" stroke-linecap="butt"/>
<line x1="368.6" y1="843.5" x2="368.6" y2="849" stroke="#000" stroke-width="2" stroke-linecap="butt"/>
<text x="368.6" y="863.6" font-size="12.5" text-anchor="middle" >0.5</text>
<line x1="396.44" y1="843.5" x2="396.44" y2="845.9" stroke="#000" stroke-width="2" stroke-linecap="butt"/>
<line x1="424.28" y1="843.5" x2="424.28" y2="849" stroke="#000" stroke-width="2" stroke-linecap="butt"/>
<text x="424.28" y="863.6" font-size="12.5" text-anchor="middle" >0.6</text>
<line x1="452.12" y1="843.5" x2="452.12" y2="845.9" stroke="#000" stroke-width="2" stroke-linecap="butt"/>
<line x1="479.96" y1="843.5" x2="479.96" y2="849" stroke="#000" stroke-width="2" stroke-linecap="butt"/>
<text x="479.96" y="863.6" font-size="12.5" text-anchor="middle" >0.7</text>
<line x1="507.8" y1="843.5" x2="507.8" y2="845.9" stroke="#000" stroke-width="2" stroke-linecap="butt"/>
<line x1="535.64" y1="843.5" x2="535.64" y2="849" stroke="#000" stroke-width="2" stroke-linecap="butt"/>
<text x="535.64" y="863.6" font-size="12.5" text-anchor="middle" >0.8</text>
<line x1="563.48" y1="843.5" x2="563.48" y2="845.9" stroke="#000" stroke-width="2" stroke-linecap="butt"/>
<line x1="591.32" y1="843.5" x2="591.32" y2="849" stroke="#000" stroke-width="2" stroke-linecap="butt"/>
<text x="591.32" y="863.6" font-size="12.5" text-anchor="middle" >0.9</text>
<line x1="619.16" y1="843.5" x2="619.16" y2="845.9" stroke="#000" stroke-width="2" stroke-linecap="butt"/>
<line x1="647" y1="843.5" x2="647" y2="849" stroke="#000" stroke-width="2" stroke-linecap="butt"/>
<text x="647" y="863.6" font-size="12.5" text-anchor="middle" >1.0</text>
<g clip-path="url(#cA)">
<path d="M106.5 816.6L191 810.8" fill="none" stroke="#FF0000" stroke-width="3.6" stroke-linecap="butt" stroke-linejoin="round" stroke-dasharray="5.5 6 25 7 9 6 30 10"/>
<path d="M103 823.4L107.4 823.4M116.6 823.4L121.4 823.4M130.6 823.47L135 823.53M144.2 823.73L148.8 823.87M158 824L162.4 824M171.6 824L175.8 824M185 824.14L189.4 824.26M198.59 824.06L202.81 823.74M211.99 823.05L216.01 822.75M225.2 822.4L229.4 822.4M238.59 822.13L242.81 821.87M252 821.6L256 821.6M265.18 821.19L269.42 820.81M278.6 820.26L282.4 820.14M291.58 819.52L295.82 819.08M305 818.53L308.8 818.47M317.96 817.77L321.84 817.23M331 816.39L335 816.21M344.14 815.23L348.06 814.57M357.19 813.52L361.01 813.28M370.11 812.1L374.09 811.3M383.2 810.26L387.4 810.14M396.52 809.16L400.48 808.44M409.6 807.39L413.4 807.21M422.44 805.8L426.16 804.8M435.19 803.38L438.81 803.22M447.88 801.97L451.92 801.03M460.99 799.65L464.81 799.35M473.82 797.74L477.58 796.66M486.59 795.04L490.01 794.76M498.98 792.99L502.62 791.81M511.59 790.04L515.01 789.76M523.87 787.68L527.73 786.12M536.57 783.88L539.83 783.52M548.66 781.26L552.34 779.74M561.16 777.36L564.84 776.84M573.94 775.48L577.56 774.92M586.21 772.13L589.69 770.37M598.33 767.52L601.47 766.98M609.37 763.07L614.13 758.63M621.86 754.02L624.94 752.98M632.04 747.8L636.56 741.7M640.09 733.47L643.71 712.83" fill="none" stroke="#000" stroke-width="2.2" stroke-linecap="butt"/>
<path d="M196.19 807.77L198.81 807.63M207.98 806.98L209.82 806.82M218.94 805.67L221.06 805.33M230.18 804.2L232.42 804M241.57 803.12L243.83 802.88M252.98 801.99L255.02 801.81M264.17 800.84L266.43 800.56M275.57 799.44L277.83 799.16M286.97 798.11L289.03 797.89M298.14 796.63L300.86 796.17M310 795.24L312.4 795.16M321.52 794.15L323.08 793.85M332.18 792.62L335.02 792.38M344.14 791.25L345.96 790.95M355.04 789.49L357.46 789.11M366.59 788.09L369.41 787.91M378.53 786.78L380.47 786.42M389.58 785.2L391.82 785M400.93 783.79L403.07 783.41M412.18 782.13L414.82 781.87M423.93 780.62L426.47 780.18M435.6 779.24L438 779.16M447.1 778.05L449.5 777.55M458.59 776.37L461.41 776.23M470.39 774.61L473.01 773.79M481.86 771.27L483.94 770.73M492.89 768.59L495.51 768.01M504.58 767.38L507.42 767.62M516.53 767.22L519.07 766.78M528.18 765.62L531.02 765.38M540.05 763.83L542.55 763.17M551.58 761.6L554.02 761.4M563.08 759.97L565.82 759.33M574.86 757.7L577.94 757.3M587.04 755.93L589.76 755.47M598.71 753.38L601.59 752.52M610.59 750.85L613.11 750.65M621.91 748.44L624.79 747.16M631.55 741.47L635.75 735.13M639.5 726.86L643.3 712.74" fill="none" stroke="#000" stroke-width="2.2" stroke-linecap="butt"/>
<rect x="94.9" y="819.9" width="7" height="7" fill="#FF0000"/>
<rect x="108.5" y="819.9" width="7" height="7" fill="#FF0000"/>
<rect x="122.5" y="819.9" width="7" height="7" fill="#FF0000"/>
<rect x="136.1" y="820.1" width="7" height="7" fill="#FF0000"/>
<rect x="149.9" y="820.5" width="7" height="7" fill="#FF0000"/>
<rect x="163.5" y="820.5" width="7" height="7" fill="#FF0000"/>
<rect x="176.9" y="820.5" width="7" height="7" fill="#FF0000"/>
<rect x="190.5" y="820.9" width="7" height="7" fill="#FF0000"/>
<rect x="203.9" y="819.9" width="7" height="7" fill="#FF0000"/>
<rect x="217.1" y="818.9" width="7" height="7" fill="#FF0000"/>
<rect x="230.5" y="818.9" width="7" height="7" fill="#FF0000"/>
<rect x="243.9" y="818.1" width="7" height="7" fill="#FF0000"/>
<rect x="257.1" y="818.1" width="7" height="7" fill="#FF0000"/>
<rect x="270.5" y="816.9" width="7" height="7" fill="#FF0000"/>
<rect x="283.5" y="816.5" width="7" height="7" fill="#FF0000"/>
<rect x="296.9" y="815.1" width="7" height="7" fill="#FF0000"/>
<rect x="309.9" y="814.9" width="7" height="7" fill="#FF0000"/>
<rect x="322.9" y="813.1" width="7" height="7" fill="#FF0000"/>
<rect x="336.1" y="812.5" width="7" height="7" fill="#FF0000"/>
<rect x="349.1" y="810.3" width="7" height="7" fill="#FF0000"/>
<rect x="362.1" y="809.5" width="7" height="7" fill="#FF0000"/>
<rect x="375.1" y="806.9" width="7" height="7" fill="#FF0000"/>
<rect x="388.5" y="806.5" width="7" height="7" fill="#FF0000"/>
<rect x="401.5" y="804.1" width="7" height="7" fill="#FF0000"/>
<rect x="414.5" y="803.5" width="7" height="7" fill="#FF0000"/>
<rect x="427.1" y="800.1" width="7" height="7" fill="#FF0000"/>
<rect x="439.9" y="799.5" width="7" height="7" fill="#FF0000"/>
<rect x="452.9" y="796.5" width="7" height="7" fill="#FF0000"/>
<rect x="465.9" y="795.5" width="7" height="7" fill="#FF0000"/>
<rect x="478.5" y="791.9" width="7" height="7" fill="#FF0000"/>
<rect x="491.1" y="790.9" width="7" height="7" fill="#FF0000"/>
<rect x="503.5" y="786.9" width="7" height="7" fill="#FF0000"/>
<rect x="516.1" y="785.9" width="7" height="7" fill="#FF0000"/>
<rect x="528.5" y="780.9" width="7" height="7" fill="#FF0000"/>
<rect x="540.9" y="779.5" width="7" height="7" fill="#FF0000"/>
<rect x="553.1" y="774.5" width="7" height="7" fill="#FF0000"/>
<rect x="565.9" y="772.7" width="7" height="7" fill="#FF0000"/>
<rect x="578.6" y="770.7" width="7" height="7" fill="#FF0000"/>
<rect x="590.3" y="764.8" width="7" height="7" fill="#FF0000"/>
<rect x="602.5" y="762.7" width="7" height="7" fill="#FF0000"/>
<rect x="614" y="752" width="7" height="7" fill="#FF0000"/>
<rect x="625.8" y="748" width="7" height="7" fill="#FF0000"/>
<rect x="635.8" y="734.5" width="7" height="7" fill="#FF0000"/>
<rect x="641" y="704.8" width="7" height="7" fill="#FF0000"/>
<rect x="188.1" y="804.5" width="7" height="7" fill="#FF0000"/>
<rect x="199.9" y="803.9" width="7" height="7" fill="#FF0000"/>
<rect x="210.9" y="802.9" width="7" height="7" fill="#FF0000"/>
<rect x="222.1" y="801.1" width="7" height="7" fill="#FF0000"/>
<rect x="233.5" y="800.1" width="7" height="7" fill="#FF0000"/>
<rect x="244.9" y="798.9" width="7" height="7" fill="#FF0000"/>
<rect x="256.1" y="797.9" width="7" height="7" fill="#FF0000"/>
<rect x="267.5" y="796.5" width="7" height="7" fill="#FF0000"/>
<rect x="278.9" y="795.1" width="7" height="7" fill="#FF0000"/>
<rect x="290.1" y="793.9" width="7" height="7" fill="#FF0000"/>
<rect x="301.9" y="791.9" width="7" height="7" fill="#FF0000"/>
<rect x="313.5" y="791.5" width="7" height="7" fill="#FF0000"/>
<rect x="324.1" y="789.5" width="7" height="7" fill="#FF0000"/>
<rect x="336.1" y="788.5" width="7" height="7" fill="#FF0000"/>
<rect x="347" y="786.7" width="7" height="7" fill="#FF0000"/>
<rect x="358.5" y="784.9" width="7" height="7" fill="#FF0000"/>
<rect x="370.5" y="784.1" width="7" height="7" fill="#FF0000"/>
<rect x="381.5" y="782.1" width="7" height="7" fill="#FF0000"/>
<rect x="392.9" y="781.1" width="7" height="7" fill="#FF0000"/>
<rect x="404.1" y="779.1" width="7" height="7" fill="#FF0000"/>
<rect x="415.9" y="777.9" width="7" height="7" fill="#FF0000"/>
<rect x="427.5" y="775.9" width="7" height="7" fill="#FF0000"/>
<rect x="439.1" y="775.5" width="7" height="7" fill="#FF0000"/>
<rect x="450.5" y="773.1" width="7" height="7" fill="#FF0000"/>
<rect x="462.5" y="772.5" width="7" height="7" fill="#FF0000"/>
<rect x="473.9" y="768.9" width="7" height="7" fill="#FF0000"/>
<rect x="484.9" y="766.1" width="7" height="7" fill="#FF0000"/>
<rect x="496.5" y="763.5" width="7" height="7" fill="#FF0000"/>
<rect x="508.5" y="764.5" width="7" height="7" fill="#FF0000"/>
<rect x="520.1" y="762.5" width="7" height="7" fill="#FF0000"/>
<rect x="532.1" y="761.5" width="7" height="7" fill="#FF0000"/>
<rect x="543.5" y="758.5" width="7" height="7" fill="#FF0000"/>
<rect x="555.1" y="757.5" width="7" height="7" fill="#FF0000"/>
<rect x="566.8" y="754.8" width="7" height="7" fill="#FF0000"/>
<rect x="579" y="753.2" width="7" height="7" fill="#FF0000"/>
<rect x="590.8" y="751.2" width="7" height="7" fill="#FF0000"/>
<rect x="602.5" y="747.7" width="7" height="7" fill="#FF0000"/>
<rect x="614.2" y="746.8" width="7" height="7" fill="#FF0000"/>
<rect x="625.5" y="741.8" width="7" height="7" fill="#FF0000"/>
<rect x="634.8" y="727.8" width="7" height="7" fill="#FF0000"/>
<rect x="641" y="704.8" width="7" height="7" fill="#FF0000"/>
</g>
<line x1="101" y1="619" x2="136.6" y2="619" stroke="#000" stroke-width="2" stroke-linecap="butt"/>
<rect x="115.35" y="615.35" width="6.8" height="6.8" fill="#FF0000"/>
<text x="139.8" y="624.8" font-size="14" text-anchor="start" font-weight="bold" >RGTW</text>
<text x="359.6" y="654.5" font-size="29.5" text-anchor="start" font-weight="bold" >A</text>
<line x1="769.6" y1="27.92" x2="769.6" y2="270.3" stroke="#000" stroke-width="2" stroke-linecap="butt"/>
<line x1="768.6" y1="269.3" x2="1327.25" y2="269.3" stroke="#000" stroke-width="2" stroke-linecap="butt"/>
<line x1="764.1" y1="269.3" x2="769.6" y2="269.3" stroke="#000" stroke-width="2" stroke-linecap="butt"/>
<text x="759.4" y="273.7" font-size="12.5" text-anchor="end" >0.0</text>
<line x1="767.2" y1="242.48" x2="769.6" y2="242.48" stroke="#000" stroke-width="2" stroke-linecap="butt"/>
<line x1="764.1" y1="215.66" x2="769.6" y2="215.66" stroke="#000" stroke-width="2" stroke-linecap="butt"/>
<text x="759.4" y="220.06" font-size="12.5" text-anchor="end" >2.0x10<tspan font-size="8.5" dy="-5.5">-4</tspan></text>
<line x1="767.2" y1="188.84" x2="769.6" y2="188.84" stroke="#000" stroke-width="2" stroke-linecap="butt"/>
<line x1="764.1" y1="162.02" x2="769.6" y2="162.02" stroke="#000" stroke-width="2" stroke-linecap="butt"/>
<text x="759.4" y="166.42" font-size="12.5" text-anchor="end" >4.0x10<tspan font-size="8.5" dy="-5.5">-4</tspan></text>
<line x1="767.2" y1="135.2" x2="769.6" y2="135.2" stroke="#000" stroke-width="2" stroke-linecap="butt"/>
<line x1="764.1" y1="108.38" x2="769.6" y2="108.38" stroke="#000" stroke-width="2" stroke-linecap="butt"/>
<text x="759.4" y="112.78" font-size="12.5" text-anchor="end" >6.0x10<tspan font-size="8.5" dy="-5.5">-4</tspan></text>
<line x1="767.2" y1="81.56" x2="769.6" y2="81.56" stroke="#000" stroke-width="2" stroke-linecap="butt"/>
<line x1="764.1" y1="54.74" x2="769.6" y2="54.74" stroke="#000" stroke-width="2" stroke-linecap="butt"/>
<text x="759.4" y="59.14" font-size="12.5" text-anchor="end" >8.0x10<tspan font-size="8.5" dy="-5.5">-4</tspan></text>
<line x1="767.2" y1="27.92" x2="769.6" y2="27.92" stroke="#000" stroke-width="2" stroke-linecap="butt"/>
<line x1="769.6" y1="269.3" x2="769.6" y2="274.8" stroke="#000" stroke-width="2" stroke-linecap="butt"/>
<text x="769.6" y="288.9" font-size="12.5" text-anchor="middle" >0</text>
<line x1="800.52" y1="269.3" x2="800.52" y2="271.7" stroke="#000" stroke-width="2" stroke-linecap="butt"/>
<line x1="831.45" y1="269.3" x2="831.45" y2="274.8" stroke="#000" stroke-width="2" stroke-linecap="butt"/>
<text x="831.45" y="288.9" font-size="12.5" text-anchor="middle" >50</text>
<line x1="862.38" y1="269.3" x2="862.38" y2="271.7" stroke="#000" stroke-width="2" stroke-linecap="butt"/>
<line x1="893.3" y1="269.3" x2="893.3" y2="274.8" stroke="#000" stroke-width="2" stroke-linecap="butt"/>
<text x="893.3" y="288.9" font-size="12.5" text-anchor="middle" >100</text>
<line x1="924.23" y1="269.3" x2="924.23" y2="271.7" stroke="#000" stroke-width="2" stroke-linecap="butt"/>
<line x1="955.15" y1="269.3" x2="955.15" y2="274.8" stroke="#000" stroke-width="2" stroke-linecap="butt"/>
<text x="955.15" y="288.9" font-size="12.5" text-anchor="middle" >150</text>
<line x1="986.08" y1="269.3" x2="986.08" y2="271.7" stroke="#000" stroke-width="2" stroke-linecap="butt"/>
<line x1="1017" y1="269.3" x2="1017" y2="274.8" stroke="#000" stroke-width="2" stroke-linecap="butt"/>
<text x="1017" y="288.9" font-size="12.5" text-anchor="middle" >200</text>
<line x1="1047.93" y1="269.3" x2="1047.93" y2="271.7" stroke="#000" stroke-width="2" stroke-linecap="butt"/>
<line x1="1078.85" y1="269.3" x2="1078.85" y2="274.8" stroke="#000" stroke-width="2" stroke-linecap="butt"/>
<text x="1078.85" y="288.9" font-size="12.5" text-anchor="middle" >250</text>
<line x1="1109.78" y1="269.3" x2="1109.78" y2="271.7" stroke="#000" stroke-width="2" stroke-linecap="butt"/>
<line x1="1140.7" y1="269.3" x2="1140.7" y2="274.8" stroke="#000" stroke-width="2" stroke-linecap="butt"/>
<text x="1140.7" y="288.9" font-size="12.5" text-anchor="middle" >300</text>
<line x1="1171.62" y1="269.3" x2="1171.62" y2="271.7" stroke="#000" stroke-width="2" stroke-linecap="butt"/>
<line x1="1202.55" y1="269.3" x2="1202.55" y2="274.8" stroke="#000" stroke-width="2" stroke-linecap="butt"/>
<text x="1202.55" y="288.9" font-size="12.5" text-anchor="middle" >350</text>
<line x1="1233.48" y1="269.3" x2="1233.48" y2="271.7" stroke="#000" stroke-width="2" stroke-linecap="butt"/>
<line x1="1264.4" y1="269.3" x2="1264.4" y2="274.8" stroke="#000" stroke-width="2" stroke-linecap="butt"/>
<text x="1264.4" y="288.9" font-size="12.5" text-anchor="middle" >400</text>
<line x1="1295.33" y1="269.3" x2="1295.33" y2="271.7" stroke="#000" stroke-width="2" stroke-linecap="butt"/>
<line x1="1326.25" y1="269.3" x2="1326.25" y2="274.8" stroke="#000" stroke-width="2" stroke-linecap="butt"/>
<text x="1326.25" y="288.9" font-size="12.5" text-anchor="middle" >450</text>
<g clip-path="url(#cCp)">
<path d="M774.53 263.4L776.17 34.3M776.24 34.3L778.36 263.4M778.37 263.4L777.43 128.8M777.48 128.8L779.72 263.4M779.72 263.4L778.08 160.5M778.34 150.91L779.36 136.79M779.75 136.8L781.15 263.4M783.97 263.4L785.33 225M785.57 225L786.13 263.4M786.29 263.4L787.31 206M787.48 196.4L787.92 171.6M788.06 171.6L789.24 263.4M789.39 263.4L791.21 163.4M791.34 163.4L792.16 263.4M793.31 263.4L793.99 -55.2M794.01 -55.2L794.79 263.4M799.21 263.4L799.99 -55.2M800.01 -55.2L800.79 263.4M805.06 263.4L805.94 186.3M806.04 186.3L806.76 263.4M808.78 260.6L811.42 101.9M811.6 101.9L814.4 239.4M815.33 248.93L816.97 258.17M823.08 258.12L827.22 216.98M834.51 213.85L839.89 250.05M841.95 250.19L847.85 230.11M850.89 229.99L858.51 250.31M863.97 251.83L880.23 239.07M888.73 235.27L908.27 231.83M917.1 233.5L943.3 249.5M952.16 252.65L1001.24 259.35M1010.8 260L1108.8 260M1118.4 260.09L1415.2 265.61" fill="none" stroke="#000" stroke-width="1.7" stroke-linecap="butt"/>
<path d="M773.3 264L777.8 272L768.8 272Z" fill="#FF0080"/>
<line x1="770.49" y1="270.5" x2="776.11" y2="270.5" stroke="#FFE8F4" stroke-width="1"/>
<path d="M774.5 264L779 272L770 272Z" fill="#FF0080"/>
<line x1="771.69" y1="270.5" x2="777.31" y2="270.5" stroke="#FFE8F4" stroke-width="1"/>
<path d="M776.2 26L780.7 34L771.7 34Z" fill="#FF0080"/>
<line x1="773.39" y1="32.5" x2="779.01" y2="32.5" stroke="#FFE8F4" stroke-width="1"/>
<path d="M778.4 264L782.9 272L773.9 272Z" fill="#FF0080"/>
<line x1="775.59" y1="270.5" x2="781.21" y2="270.5" stroke="#FFE8F4" stroke-width="1"/>
<path d="M777.4 120L781.9 128L772.9 128Z" fill="#FF0080"/>
<line x1="774.59" y1="126.5" x2="780.21" y2="126.5" stroke="#FFE8F4" stroke-width="1"/>
<path d="M779.8 264L784.3 272L775.3 272Z" fill="#FF0080"/>
<line x1="776.99" y1="270.5" x2="782.61" y2="270.5" stroke="#FFE8F4" stroke-width="1"/>
<path d="M778 152L782.5 160L773.5 160Z" fill="#FF0080"/>
<line x1="775.19" y1="158.5" x2="780.81" y2="158.5" stroke="#FFE8F4" stroke-width="1"/>
<path d="M779.7 128L784.2 136L775.2 136Z" fill="#FF0080"/>
<line x1="776.89" y1="134.5" x2="782.51" y2="134.5" stroke="#FFE8F4" stroke-width="1"/>
<path d="M781.2 264L785.7 272L776.7 272Z" fill="#FF0080"/>
<line x1="778.39" y1="270.5" x2="784.01" y2="270.5" stroke="#FFE8F4" stroke-width="1"/>
<path d="M782.6 264L787.1 272L778.1 272Z" fill="#FF0080"/>
<line x1="779.79" y1="270.5" x2="785.41" y2="270.5" stroke="#FFE8F4" stroke-width="1"/>
<path d="M783.8 264L788.3 272L779.3 272Z" fill="#FF0080"/>
<line x1="780.99" y1="270.5" x2="786.61" y2="270.5" stroke="#FFE8F4" stroke-width="1"/>
<path d="M785.5 216L790 224L781 224Z" fill="#FF0080"/>
<line x1="782.69" y1="222.5" x2="788.31" y2="222.5" stroke="#FFE8F4" stroke-width="1"/>
<path d="M786.2 264L790.7 272L781.7 272Z" fill="#FF0080"/>
<line x1="783.39" y1="270.5" x2="789.01" y2="270.5" stroke="#FFE8F4" stroke-width="1"/>
<path d="M787.4 197L791.9 205L782.9 205Z" fill="#FF0080"/>
<line x1="784.59" y1="203.5" x2="790.21" y2="203.5" stroke="#FFE8F4" stroke-width="1"/>
<path d="M788 163L792.5 171L783.5 171Z" fill="#FF0080"/>
<line x1="785.19" y1="169.5" x2="790.81" y2="169.5" stroke="#FFE8F4" stroke-width="1"/>
<path d="M789.3 264L793.8 272L784.8 272Z" fill="#FF0080"/>
<line x1="786.49" y1="270.5" x2="792.11" y2="270.5" stroke="#FFE8F4" stroke-width="1"/>
<path d="M791.3 155L795.8 163L786.8 163Z" fill="#FF0080"/>
<line x1="788.49" y1="161.5" x2="794.11" y2="161.5" stroke="#FFE8F4" stroke-width="1"/>
<path d="M792.2 264L796.7 272L787.7 272Z" fill="#FF0080"/>
<line x1="789.39" y1="270.5" x2="795.01" y2="270.5" stroke="#FFE8F4" stroke-width="1"/>
<path d="M793.3 264L797.8 272L788.8 272Z" fill="#FF0080"/>
<line x1="790.49" y1="270.5" x2="796.11" y2="270.5" stroke="#FFE8F4" stroke-width="1"/>
<path d="M794 -64L798.5 -56L789.5 -56Z" fill="#FF0080"/>
<line x1="791.19" y1="-57.5" x2="796.81" y2="-57.5" stroke="#FFE8F4" stroke-width="1"/>
<path d="M794.8 264L799.3 272L790.3 272Z" fill="#FF0080"/>
<line x1="791.99" y1="270.5" x2="797.61" y2="270.5" stroke="#FFE8F4" stroke-width="1"/>
<path d="M796.2 264L800.7 272L791.7 272Z" fill="#FF0080"/>
<line x1="793.39" y1="270.5" x2="799.01" y2="270.5" stroke="#FFE8F4" stroke-width="1"/>
<path d="M797.6 264L802.1 272L793.1 272Z" fill="#FF0080"/>
<line x1="794.79" y1="270.5" x2="800.41" y2="270.5" stroke="#FFE8F4" stroke-width="1"/>
<path d="M799.2 264L803.7 272L794.7 272Z" fill="#FF0080"/>
<line x1="796.39" y1="270.5" x2="802.01" y2="270.5" stroke="#FFE8F4" stroke-width="1"/>
<path d="M800 -64L804.5 -56L795.5 -56Z" fill="#FF0080"/>
<line x1="797.19" y1="-57.5" x2="802.81" y2="-57.5" stroke="#FFE8F4" stroke-width="1"/>
<path d="M800.8 264L805.3 272L796.3 272Z" fill="#FF0080"/>
<line x1="797.99" y1="270.5" x2="803.61" y2="270.5" stroke="#FFE8F4" stroke-width="1"/>
<path d="M802.2 264L806.7 272L797.7 272Z" fill="#FF0080"/>
<line x1="799.39" y1="270.5" x2="805.01" y2="270.5" stroke="#FFE8F4" stroke-width="1"/>
<path d="M803.6 264L808.1 272L799.1 272Z" fill="#FF0080"/>
<line x1="800.79" y1="270.5" x2="806.41" y2="270.5" stroke="#FFE8F4" stroke-width="1"/>
<path d="M805 264L809.5 272L800.5 272Z" fill="#FF0080"/>
<line x1="802.19" y1="270.5" x2="807.81" y2="270.5" stroke="#FFE8F4" stroke-width="1"/>
<path d="M806 178L810.5 186L801.5 186Z" fill="#FF0080"/>
<line x1="803.19" y1="184.5" x2="808.81" y2="184.5" stroke="#FFE8F4" stroke-width="1"/>
<path d="M806.8 264L811.3 272L802.3 272Z" fill="#FF0080"/>
<line x1="803.99" y1="270.5" x2="809.61" y2="270.5" stroke="#FFE8F4" stroke-width="1"/>
<path d="M808.7 261L813.2 269L804.2 269Z" fill="#FF0080"/>
<line x1="805.89" y1="267.5" x2="811.51" y2="267.5" stroke="#FFE8F4" stroke-width="1"/>
<path d="M811.5 93L816 101L807 101Z" fill="#FF0080"/>
<line x1="808.69" y1="99.5" x2="814.31" y2="99.5" stroke="#FFE8F4" stroke-width="1"/>
<path d="M814.5 240L819 248L810 248Z" fill="#FF0080"/>
<line x1="811.69" y1="246.5" x2="817.31" y2="246.5" stroke="#FFE8F4" stroke-width="1"/>
<path d="M817.8 259L822.3 267L813.3 267Z" fill="#FF0080"/>
<line x1="814.99" y1="265.5" x2="820.61" y2="265.5" stroke="#FFE8F4" stroke-width="1"/>
<path d="M822.6 259L827.1 267L818.1 267Z" fill="#FF0080"/>
<line x1="819.79" y1="265.5" x2="825.41" y2="265.5" stroke="#FFE8F4" stroke-width="1"/>
<path d="M827.7 208L832.2 216L823.2 216Z" fill="#FF0080"/>
<line x1="824.89" y1="214.5" x2="830.51" y2="214.5" stroke="#FFE8F4" stroke-width="1"/>
<path d="M833.8 205L838.3 213L829.3 213Z" fill="#FF0080"/>
<line x1="830.99" y1="211.5" x2="836.61" y2="211.5" stroke="#FFE8F4" stroke-width="1"/>
<path d="M840.6 251L845.1 259L836.1 259Z" fill="#FF0080"/>
<line x1="837.79" y1="257.5" x2="843.41" y2="257.5" stroke="#FFE8F4" stroke-width="1"/>
<path d="M849.2 222L853.7 230L844.7 230Z" fill="#FF0080"/>
<line x1="846.39" y1="228.5" x2="852.01" y2="228.5" stroke="#FFE8F4" stroke-width="1"/>
<path d="M860.2 251L864.7 259L855.7 259Z" fill="#FF0080"/>
<line x1="857.39" y1="257.5" x2="863.01" y2="257.5" stroke="#FFE8F4" stroke-width="1"/>
<path d="M884 232L888.5 240L879.5 240Z" fill="#FF0080"/>
<line x1="881.19" y1="238.5" x2="886.81" y2="238.5" stroke="#FFE8F4" stroke-width="1"/>
<path d="M913 227L917.5 235L908.5 235Z" fill="#FF0080"/>
<line x1="910.19" y1="233.5" x2="915.81" y2="233.5" stroke="#FFE8F4" stroke-width="1"/>
<path d="M947.4 248L951.9 256L942.9 256Z" fill="#FF0080"/>
<line x1="944.59" y1="254.5" x2="950.21" y2="254.5" stroke="#FFE8F4" stroke-width="1"/>
<path d="M1006 256L1010.5 264L1001.5 264Z" fill="#FF0080"/>
<line x1="1003.19" y1="262.5" x2="1008.81" y2="262.5" stroke="#FFE8F4" stroke-width="1"/>
<path d="M1113.6 256L1118.1 264L1109.1 264Z" fill="#FF0080"/>
<line x1="1110.79" y1="262.5" x2="1116.41" y2="262.5" stroke="#FFE8F4" stroke-width="1"/>
</g>
<line x1="1186.7" y1="44.6" x2="1221.8" y2="44.6" stroke="#000" stroke-width="1.6" stroke-linecap="butt"/>
<path d="M1204.4 40L1208.4 47L1200.4 47Z" fill="#FF0080"/>
<line x1="1202.11" y1="45.5" x2="1206.69" y2="45.5" stroke="#FFE8F4" stroke-width="1"/>
<text x="1226" y="50.2" font-size="15" text-anchor="start" font-weight="bold" >TTGTW500</text>
<text x="1049.8" y="64" font-size="29.5" text-anchor="start" font-weight="bold" >C'</text>
<line x1="764.8" y1="315" x2="764.8" y2="556" stroke="#000" stroke-width="2" stroke-linecap="butt"/>
<line x1="763.8" y1="555" x2="1322.32" y2="555" stroke="#000" stroke-width="2" stroke-linecap="butt"/>
<line x1="759.3" y1="555" x2="764.8" y2="555" stroke="#000" stroke-width="2" stroke-linecap="butt"/>
<text x="754.6" y="559.4" font-size="12.5" text-anchor="end" >0.0</text>
<line x1="762.4" y1="495" x2="764.8" y2="495" stroke="#000" stroke-width="2" stroke-linecap="butt"/>
<line x1="759.3" y1="435" x2="764.8" y2="435" stroke="#000" stroke-width="2" stroke-linecap="butt"/>
<text x="754.6" y="439.4" font-size="12.5" text-anchor="end" >2.0x10<tspan font-size="8.5" dy="-5.5">-4</tspan></text>
<line x1="762.4" y1="375" x2="764.8" y2="375" stroke="#000" stroke-width="2" stroke-linecap="butt"/>
<line x1="759.3" y1="315" x2="764.8" y2="315" stroke="#000" stroke-width="2" stroke-linecap="butt"/>
<text x="754.6" y="319.4" font-size="12.5" text-anchor="end" >4.0x10<tspan font-size="8.5" dy="-5.5">-4</tspan></text>
<line x1="764.8" y1="555" x2="764.8" y2="560.5" stroke="#000" stroke-width="2" stroke-linecap="butt"/>
<text x="764.8" y="574.6" font-size="12.5" text-anchor="middle" >0</text>
<line x1="795.72" y1="555" x2="795.72" y2="557.4" stroke="#000" stroke-width="2" stroke-linecap="butt"/>
<line x1="826.63" y1="555" x2="826.63" y2="560.5" stroke="#000" stroke-width="2" stroke-linecap="butt"/>
<text x="826.63" y="574.6" font-size="12.5" text-anchor="middle" >50</text>
<line x1="857.55" y1="555" x2="857.55" y2="557.4" stroke="#000" stroke-width="2" stroke-linecap="butt"/>
<line x1="888.47" y1="555" x2="888.47" y2="560.5" stroke="#000" stroke-width="2" stroke-linecap="butt"/>
<text x="888.47" y="574.6" font-size="12.5" text-anchor="middle" >100</text>
<line x1="919.39" y1="555" x2="919.39" y2="557.4" stroke="#000" stroke-width="2" stroke-linecap="butt"/>
<line x1="950.3" y1="555" x2="950.3" y2="560.5" stroke="#000" stroke-width="2" stroke-linecap="butt"/>
<text x="950.3" y="574.6" font-size="12.5" text-anchor="middle" >150</text>
<line x1="981.22" y1="555" x2="981.22" y2="557.4" stroke="#000" stroke-width="2" stroke-linecap="butt"/>
<line x1="1012.14" y1="555" x2="1012.14" y2="560.5" stroke="#000" stroke-width="2" stroke-linecap="butt"/>
<text x="1012.14" y="574.6" font-size="12.5" text-anchor="middle" >200</text>
<line x1="1043.06" y1="555" x2="1043.06" y2="557.4" stroke="#000" stroke-width="2" stroke-linecap="butt"/>
<line x1="1073.97" y1="555" x2="1073.97" y2="560.5" stroke="#000" stroke-width="2" stroke-linecap="butt"/>
<text x="1073.97" y="574.6" font-size="12.5" text-anchor="middle" >250</text>
<line x1="1104.89" y1="555" x2="1104.89" y2="557.4" stroke="#000" stroke-width="2" stroke-linecap="butt"/>
<line x1="1135.81" y1="555" x2="1135.81" y2="560.5" stroke="#000" stroke-width="2" stroke-linecap="butt"/>
<text x="1135.81" y="574.6" font-size="12.5" text-anchor="middle" >300</text>
<line x1="1166.73" y1="555" x2="1166.73" y2="557.4" stroke="#000" stroke-width="2" stroke-linecap="butt"/>
<line x1="1197.64" y1="555" x2="1197.64" y2="560.5" stroke="#000" stroke-width="2" stroke-linecap="butt"/>
<text x="1197.64" y="574.6" font-size="12.5" text-anchor="middle" >350</text>
<line x1="1228.56" y1="555" x2="1228.56" y2="557.4" stroke="#000" stroke-width="2" stroke-linecap="butt"/>
<line x1="1259.48" y1="555" x2="1259.48" y2="560.5" stroke="#000" stroke-width="2" stroke-linecap="butt"/>
<text x="1259.48" y="574.6" font-size="12.5" text-anchor="middle" >400</text>
<line x1="1290.4" y1="555" x2="1290.4" y2="557.4" stroke="#000" stroke-width="2" stroke-linecap="butt"/>
<line x1="1321.32" y1="555" x2="1321.32" y2="560.5" stroke="#000" stroke-width="2" stroke-linecap="butt"/>
<text x="1321.32" y="574.6" font-size="12.5" text-anchor="middle" >450</text>
<g clip-path="url(#cBp)">
<path d="M780.17 551.1L781.13 528.7M781.39 528.7L781.91 551.1M782.02 551.1L782.98 402.5M783.02 402.5L783.78 551.1M783.83 551.1L785.17 396.1M785.22 396.1L786.18 551.1M786.27 551.1L788.73 408.6M788.82 408.6L789.38 551.1M789.42 551.1L790.28 390.1M790.33 390.1L791.57 551.1M791.64 551.1L793.26 396.3M793.33 396.3L794.57 551.1M794.66 551.1L797.14 402.5M797.24 402.5L798.96 551.1M799.08 551.1L801.82 414.6M801.96 414.6L803.94 551.1M804.15 551.1L807.35 468.5M807.64 468.5L810.66 551.1M810.99 551.1L815.11 464.4M815.49 464.4L819.81 551.1M820.27 551.11L825.53 474.69M826.14 474.69L832.26 545.11M833.55 545.22L840.65 516.88M844.25 515.97L849.75 521.93M854.43 528.13L865.17 545.67M871.1 548.93L885.1 548.67M892.83 547.87L916.77 543.33M924.5 542.6L970.5 542.6M978.28 543L1094.12 555.1" fill="none" stroke="#000" stroke-width="1.7" stroke-linecap="butt"/>
<circle cx="772" cy="555" r="3.8" fill="#0000FF"/>
<circle cx="774" cy="555" r="3.8" fill="#0000FF"/>
<circle cx="776" cy="555" r="3.8" fill="#0000FF"/>
<circle cx="778" cy="555" r="3.8" fill="#0000FF"/>
<circle cx="780" cy="555" r="3.8" fill="#0000FF"/>
<circle cx="781.3" cy="524.8" r="3.8" fill="#0000FF"/>
<circle cx="782" cy="555" r="3.8" fill="#0000FF"/>
<circle cx="783" cy="398.6" r="3.8" fill="#0000FF"/>
<circle cx="783.8" cy="555" r="3.8" fill="#0000FF"/>
<circle cx="785.2" cy="392.2" r="3.8" fill="#0000FF"/>
<circle cx="786.2" cy="555" r="3.8" fill="#0000FF"/>
<circle cx="788.8" cy="404.7" r="3.8" fill="#0000FF"/>
<circle cx="789.4" cy="555" r="3.8" fill="#0000FF"/>
<circle cx="790.3" cy="386.2" r="3.8" fill="#0000FF"/>
<circle cx="791.6" cy="555" r="3.8" fill="#0000FF"/>
<circle cx="793.3" cy="392.4" r="3.8" fill="#0000FF"/>
<circle cx="794.6" cy="555" r="3.8" fill="#0000FF"/>
<circle cx="797.2" cy="398.6" r="3.8" fill="#0000FF"/>
<circle cx="799" cy="555" r="3.8" fill="#0000FF"/>
<circle cx="801.9" cy="410.7" r="3.8" fill="#0000FF"/>
<circle cx="804" cy="555" r="3.8" fill="#0000FF"/>
<circle cx="807.5" cy="464.6" r="3.8" fill="#0000FF"/>
<circle cx="810.8" cy="555" r="3.8" fill="#0000FF"/>
<circle cx="815.3" cy="460.5" r="3.8" fill="#0000FF"/>
<circle cx="820" cy="555" r="3.8" fill="#0000FF"/>
<circle cx="825.8" cy="470.8" r="3.8" fill="#0000FF"/>
<circle cx="832.6" cy="549" r="3.8" fill="#0000FF"/>
<circle cx="841.6" cy="513.1" r="3.8" fill="#0000FF"/>
<circle cx="852.4" cy="524.8" r="3.8" fill="#0000FF"/>
<circle cx="867.2" cy="549" r="3.8" fill="#0000FF"/>
<circle cx="889" cy="548.6" r="3.8" fill="#0000FF"/>
<circle cx="920.6" cy="542.6" r="3.8" fill="#0000FF"/>
<circle cx="974.4" cy="542.6" r="3.8" fill="#0000FF"/>
<circle cx="1098" cy="555.5" r="3.8" fill="#0000FF"/>
</g>
<line x1="1210.2" y1="335" x2="1245.2" y2="335" stroke="#000" stroke-width="1.6" stroke-linecap="butt"/>
<circle cx="1227.8" cy="335" r="3.6" fill="#0000FF"/>
<text x="1249.4" y="340.9" font-size="15" text-anchor="start" font-weight="bold" >TTGTW250</text>
<text x="1059.6" y="379" font-size="29.5" text-anchor="start" font-weight="bold" >B'</text>
<line x1="764.6" y1="598.4" x2="764.6" y2="840" stroke="#000" stroke-width="2" stroke-linecap="butt"/>
<line x1="763.6" y1="839" x2="1322.12" y2="839" stroke="#000" stroke-width="2" stroke-linecap="butt"/>
<line x1="759.1" y1="839" x2="764.6" y2="839" stroke="#000" stroke-width="2" stroke-linecap="butt"/>
<text x="754.4" y="843.4" font-size="12.5" text-anchor="end" >0.0</text>
<line x1="762.2" y1="798.9" x2="764.6" y2="798.9" stroke="#000" stroke-width="2" stroke-linecap="butt"/>
<line x1="759.1" y1="758.8" x2="764.6" y2="758.8" stroke="#000" stroke-width="2" stroke-linecap="butt"/>
<text x="754.4" y="763.2" font-size="12.5" text-anchor="end" >1.0x10<tspan font-size="8.5" dy="-5.5">-4</tspan></text>
<line x1="762.2" y1="718.7" x2="764.6" y2="718.7" stroke="#000" stroke-width="2" stroke-linecap="butt"/>
<line x1="759.1" y1="678.6" x2="764.6" y2="678.6" stroke="#000" stroke-width="2" stroke-linecap="butt"/>
<text x="754.4" y="683" font-size="12.5" text-anchor="end" >2.0x10<tspan font-size="8.5" dy="-5.5">-4</tspan></text>
<line x1="762.2" y1="638.5" x2="764.6" y2="638.5" stroke="#000" stroke-width="2" stroke-linecap="butt"/>
<line x1="759.1" y1="598.4" x2="764.6" y2="598.4" stroke="#000" stroke-width="2" stroke-linecap="butt"/>
<text x="754.4" y="602.8" font-size="12.5" text-anchor="end" >3.0x10<tspan font-size="8.5" dy="-5.5">-4</tspan></text>
<line x1="764.6" y1="839" x2="764.6" y2="844.5" stroke="#000" stroke-width="2" stroke-linecap="butt"/>
<text x="764.6" y="858.6" font-size="12.5" text-anchor="middle" >0</text>
<line x1="795.52" y1="839" x2="795.52" y2="841.4" stroke="#000" stroke-width="2" stroke-linecap="butt"/>
<line x1="826.44" y1="839" x2="826.44" y2="844.5" stroke="#000" stroke-width="2" stroke-linecap="butt"/>
<text x="826.44" y="858.6" font-size="12.5" text-anchor="middle" >50</text>
<line x1="857.35" y1="839" x2="857.35" y2="841.4" stroke="#000" stroke-width="2" stroke-linecap="butt"/>
<line x1="888.27" y1="839" x2="888.27" y2="844.5" stroke="#000" stroke-width="2" stroke-linecap="butt"/>
<text x="888.27" y="858.6" font-size="12.5" text-anchor="middle" >100</text>
<line x1="919.19" y1="839" x2="919.19" y2="841.4" stroke="#000" stroke-width="2" stroke-linecap="butt"/>
<line x1="950.11" y1="839" x2="950.11" y2="844.5" stroke="#000" stroke-width="2" stroke-linecap="butt"/>
<text x="950.11" y="858.6" font-size="12.5" text-anchor="middle" >150</text>
<line x1="981.02" y1="839" x2="981.02" y2="841.4" stroke="#000" stroke-width="2" stroke-linecap="butt"/>
<line x1="1011.94" y1="839" x2="1011.94" y2="844.5" stroke="#000" stroke-width="2" stroke-linecap="butt"/>
<text x="1011.94" y="858.6" font-size="12.5" text-anchor="middle" >200</text>
<line x1="1042.86" y1="839" x2="1042.86" y2="841.4" stroke="#000" stroke-width="2" stroke-linecap="butt"/>
<line x1="1073.78" y1="839" x2="1073.78" y2="844.5" stroke="#000" stroke-width="2" stroke-linecap="butt"/>
<text x="1073.78" y="858.6" font-size="12.5" text-anchor="middle" >250</text>
<line x1="1104.69" y1="839" x2="1104.69" y2="841.4" stroke="#000" stroke-width="2" stroke-linecap="butt"/>
<line x1="1135.61" y1="839" x2="1135.61" y2="844.5" stroke="#000" stroke-width="2" stroke-linecap="butt"/>
<text x="1135.61" y="858.6" font-size="12.5" text-anchor="middle" >300</text>
<line x1="1166.53" y1="839" x2="1166.53" y2="841.4" stroke="#000" stroke-width="2" stroke-linecap="butt"/>
<line x1="1197.44" y1="839" x2="1197.44" y2="844.5" stroke="#000" stroke-width="2" stroke-linecap="butt"/>
<text x="1197.44" y="858.6" font-size="12.5" text-anchor="middle" >350</text>
<line x1="1228.36" y1="839" x2="1228.36" y2="841.4" stroke="#000" stroke-width="2" stroke-linecap="butt"/>
<line x1="1259.28" y1="839" x2="1259.28" y2="844.5" stroke="#000" stroke-width="2" stroke-linecap="butt"/>
<text x="1259.28" y="858.6" font-size="12.5" text-anchor="middle" >400</text>
<line x1="1290.2" y1="839" x2="1290.2" y2="841.4" stroke="#000" stroke-width="2" stroke-linecap="butt"/>
<line x1="1321.12" y1="839" x2="1321.12" y2="844.5" stroke="#000" stroke-width="2" stroke-linecap="butt"/>
<text x="1321.12" y="858.6" font-size="12.5" text-anchor="middle" >450</text>
<g clip-path="url(#cAp)">
<path d="M776.67 834.41L777.63 819.09M778.02 819.1L778.48 834.4M778.65 834.4L779.45 770.9M779.56 770.9L780.54 834.4M780.62 834.4L781.38 690.7M781.43 690.7L782.37 834.4M782.42 834.4L782.98 682.6M783.03 682.6L783.97 834.4M784.02 834.4L784.98 666.4M785.02 666.4L785.98 834.4M786.03 834.4L787.27 634.2M787.34 634.2L788.96 826.3M789.02 826.3L789.98 642.5M790.03 642.5L791.47 826.3M791.54 826.3L792.86 674.4M792.96 674.4L795.04 810.7M795.14 810.7L796.76 658.4M796.87 658.4L799.23 802.5M799.39 802.5L801.31 714.7M801.51 714.7L804.09 810.7M804.34 810.7L807.36 722.8M807.64 722.8L810.56 810.7M810.93 810.71L814.47 746.69M814.97 746.69L819.13 810.71M819.84 810.72L824.86 762.78M825.75 762.78L831.75 818.62M833.29 818.74L839.71 794.76M842.14 794.68L850.26 818.82M855.31 824.78L863.09 828.92M870.12 828.32L884.18 817.38M891.24 816.71L914.66 828.69M922.55 829.95L965.45 823.25M973.75 823.21L1076.45 838.39" fill="none" stroke="#000" stroke-width="1.7" stroke-linecap="butt"/>
<rect x="768.5" y="835.1" width="7" height="7" fill="#FF0000"/>
<rect x="770.7" y="835.1" width="7" height="7" fill="#FF0000"/>
<rect x="772.9" y="835.1" width="7" height="7" fill="#FF0000"/>
<rect x="774.4" y="811.4" width="7" height="7" fill="#FF0000"/>
<rect x="775.1" y="835.1" width="7" height="7" fill="#FF0000"/>
<rect x="776" y="763.2" width="7" height="7" fill="#FF0000"/>
<rect x="777.1" y="835.1" width="7" height="7" fill="#FF0000"/>
<rect x="777.9" y="683" width="7" height="7" fill="#FF0000"/>
<rect x="778.9" y="835.1" width="7" height="7" fill="#FF0000"/>
<rect x="779.5" y="674.9" width="7" height="7" fill="#FF0000"/>
<rect x="780.5" y="835.1" width="7" height="7" fill="#FF0000"/>
<rect x="781.5" y="658.7" width="7" height="7" fill="#FF0000"/>
<rect x="782.5" y="835.1" width="7" height="7" fill="#FF0000"/>
<rect x="783.8" y="626.5" width="7" height="7" fill="#FF0000"/>
<rect x="785.5" y="827" width="7" height="7" fill="#FF0000"/>
<rect x="786.5" y="634.8" width="7" height="7" fill="#FF0000"/>
<rect x="788" y="827" width="7" height="7" fill="#FF0000"/>
<rect x="789.4" y="666.7" width="7" height="7" fill="#FF0000"/>
<rect x="791.6" y="811.4" width="7" height="7" fill="#FF0000"/>
<rect x="793.3" y="650.7" width="7" height="7" fill="#FF0000"/>
<rect x="795.8" y="803.2" width="7" height="7" fill="#FF0000"/>
<rect x="797.9" y="707" width="7" height="7" fill="#FF0000"/>
<rect x="800.7" y="811.4" width="7" height="7" fill="#FF0000"/>
<rect x="804" y="715.1" width="7" height="7" fill="#FF0000"/>
<rect x="807.2" y="811.4" width="7" height="7" fill="#FF0000"/>
<rect x="811.2" y="739" width="7" height="7" fill="#FF0000"/>
<rect x="815.9" y="811.4" width="7" height="7" fill="#FF0000"/>
<rect x="821.8" y="755.1" width="7" height="7" fill="#FF0000"/>
<rect x="828.7" y="819.3" width="7" height="7" fill="#FF0000"/>
<rect x="837.3" y="787.2" width="7" height="7" fill="#FF0000"/>
<rect x="848.1" y="819.3" width="7" height="7" fill="#FF0000"/>
<rect x="863.3" y="827.4" width="7" height="7" fill="#FF0000"/>
<rect x="884" y="811.3" width="7" height="7" fill="#FF0000"/>
<rect x="914.9" y="827.1" width="7" height="7" fill="#FF0000"/>
<rect x="966.1" y="819.1" width="7" height="7" fill="#FF0000"/>
<rect x="1077.1" y="835.5" width="7" height="7" fill="#FF0000"/>
</g>
<line x1="1213.3" y1="606.4" x2="1249.1" y2="606.4" stroke="#000" stroke-width="1.6" stroke-linecap="butt"/>
<rect x="1228.1" y="603" width="6.8" height="6.8" fill="#FF0000"/>
<text x="1252.2" y="612" font-size="15" text-anchor="start" font-weight="bold" >RGTW</text>
<text x="1048.1" y="645" font-size="29.5" text-anchor="start" font-weight="bold" >A'</text>
<text transform="translate(36 268.7) rotate(-90)" x="0" y="0" font-size="17" font-weight="bold" textLength="148.4" lengthAdjust="spacingAndGlyphs">Quantity Adsorbed</text>
<path d="M17.5 109.3Q28.95 119.1 40.4 109.3Q28.95 114.6 17.5 109.3Z" fill="#000" stroke="#000" stroke-width="0.8" stroke-linejoin="round"/>
<text transform="translate(36 108.2) rotate(-90)" x="0" y="0" font-size="17" font-weight="bold">cm</text>
<text transform="translate(26.1 84.2) rotate(-90)" x="0" y="0" font-size="18">3</text>
<text transform="translate(36 74.6) rotate(-90)" x="0" y="0" font-size="17" font-weight="bold"><tspan font-weight="normal">/</tspan>g</text>
<path d="M17.5 58Q28.95 48.6 40.4 58Q28.95 53.1 17.5 58Z" fill="#000" stroke="#000" stroke-width="0.8" stroke-linejoin="round"/>
<text transform="translate(36 46.8) rotate(-90)" x="0" y="0" font-size="17" font-weight="bold" textLength="30" lengthAdjust="spacingAndGlyphs">STP</text>
<text transform="translate(36.9 555.31) rotate(-90)" x="0" y="0" font-size="17" font-weight="bold" textLength="150.29" lengthAdjust="spacingAndGlyphs">Quantity Adsorbed</text>
<path d="M18.4 393.87Q29.85 403.8 41.3 393.87Q29.85 399.24 18.4 393.87Z" fill="#000" stroke="#000" stroke-width="0.8" stroke-linejoin="round"/>
<text transform="translate(36.9 392.76) rotate(-90)" x="0" y="0" font-size="17" font-weight="bold">cm</text>
<text transform="translate(27 368.45) rotate(-90)" x="0" y="0" font-size="18">3</text>
<text transform="translate(36.9 358.73) rotate(-90)" x="0" y="0" font-size="17" font-weight="bold"><tspan font-weight="normal">/</tspan>g</text>
<path d="M18.4 341.92Q29.85 332.4 41.3 341.92Q29.85 336.96 18.4 341.92Z" fill="#000" stroke="#000" stroke-width="0.8" stroke-linejoin="round"/>
<text transform="translate(36.9 330.58) rotate(-90)" x="0" y="0" font-size="17" font-weight="bold" textLength="30.38" lengthAdjust="spacingAndGlyphs">STP</text>
<text transform="translate(41.9 839.11) rotate(-90)" x="0" y="0" font-size="17" font-weight="bold" textLength="149.76" lengthAdjust="spacingAndGlyphs">Quantity Adsorbed</text>
<path d="M23.4 678.24Q34.85 688.13 46.3 678.24Q34.85 683.59 23.4 678.24Z" fill="#000" stroke="#000" stroke-width="0.8" stroke-linejoin="round"/>
<text transform="translate(41.9 677.13) rotate(-90)" x="0" y="0" font-size="17" font-weight="bold">cm</text>
<text transform="translate(32 652.91) rotate(-90)" x="0" y="0" font-size="18">3</text>
<text transform="translate(41.9 643.23) rotate(-90)" x="0" y="0" font-size="17" font-weight="bold"><tspan font-weight="normal">/</tspan>g</text>
<path d="M23.4 626.47Q34.85 616.99 46.3 626.47Q34.85 621.53 23.4 626.47Z" fill="#000" stroke="#000" stroke-width="0.8" stroke-linejoin="round"/>
<text transform="translate(41.9 615.17) rotate(-90)" x="0" y="0" font-size="17" font-weight="bold" textLength="30.28" lengthAdjust="spacingAndGlyphs">STP</text>
<text transform="translate(689.8 237.9) rotate(-90)" x="0" y="0" font-size="17" font-weight="bold" textLength="98.7" lengthAdjust="spacingAndGlyphs">Pore volume</text>
<path d="M671.65 126.3Q683.08 135.9 694.5 126.3Q683.08 131.4 671.65 126.3Z" fill="#000" stroke="#000" stroke-width="0.8" stroke-linejoin="round"/>
<text transform="translate(689.8 123.3) rotate(-90)" x="0" y="0" font-size="17" font-weight="bold">cm</text>
<text transform="translate(679.6 100.2) rotate(-90)" x="0" y="0" font-size="18">3</text>
<text transform="translate(689.8 91.2) rotate(-90)" x="0" y="0" font-size="17" font-weight="bold"><tspan font-weight="normal">/</tspan>g.nm</text>
<path d="M671.65 45Q683.08 35.6 694.5 45Q683.08 40.1 671.65 45Z" fill="#000" stroke="#000" stroke-width="0.8" stroke-linejoin="round"/>
<text transform="translate(685.4 523.9) rotate(-90)" x="0" y="0" font-size="17" font-weight="bold" textLength="98.75" lengthAdjust="spacingAndGlyphs">Pore volume</text>
<path d="M667.25 412.24Q678.67 421.85 690.1 412.24Q678.67 417.35 667.25 412.24Z" fill="#000" stroke="#000" stroke-width="0.8" stroke-linejoin="round"/>
<text transform="translate(685.4 409.24) rotate(-90)" x="0" y="0" font-size="17" font-weight="bold">cm</text>
<text transform="translate(675.2 386.13) rotate(-90)" x="0" y="0" font-size="18">3</text>
<text transform="translate(685.4 377.13) rotate(-90)" x="0" y="0" font-size="17" font-weight="bold"><tspan font-weight="normal">/</tspan>g.nm</text>
<path d="M667.25 330.9Q678.67 321.5 690.1 330.9Q678.67 326 667.25 330.9Z" fill="#000" stroke="#000" stroke-width="0.8" stroke-linejoin="round"/>
<text transform="translate(685 807.8) rotate(-90)" x="0" y="0" font-size="17" font-weight="bold" textLength="99" lengthAdjust="spacingAndGlyphs">Pore volume</text>
<path d="M666.85 695.86Q678.28 705.49 689.7 695.86Q678.28 700.98 666.85 695.86Z" fill="#000" stroke="#000" stroke-width="0.8" stroke-linejoin="round"/>
<text transform="translate(685 692.85) rotate(-90)" x="0" y="0" font-size="17" font-weight="bold">cm</text>
<text transform="translate(674.8 669.68) rotate(-90)" x="0" y="0" font-size="18">3</text>
<text transform="translate(685 660.66) rotate(-90)" x="0" y="0" font-size="17" font-weight="bold"><tspan font-weight="normal">/</tspan>g.nm</text>
<path d="M666.85 614.32Q678.28 604.89 689.7 614.32Q678.28 609.4 666.85 614.32Z" fill="#000" stroke="#000" stroke-width="0.8" stroke-linejoin="round"/>
<text x="264.4" y="896.8" font-size="18" text-anchor="start" font-weight="bold" >Relative Pressure</text>
<text x="420.4" y="897" font-size="15" text-anchor="start" >(</text>
<text x="425.6" y="896.8" font-size="18" text-anchor="start" font-weight="bold" >P/P</text>
<text x="455.1" y="903" font-size="17.5" text-anchor="start" font-weight="bold" >o</text>
<text x="467" y="896.8" font-size="18" text-anchor="start" font-weight="bold" >)</text>
<text x="953.7" y="887" font-size="19.5" text-anchor="start" font-weight="bold" >Pore diameter (nm)</text></svg>
</body></html>
